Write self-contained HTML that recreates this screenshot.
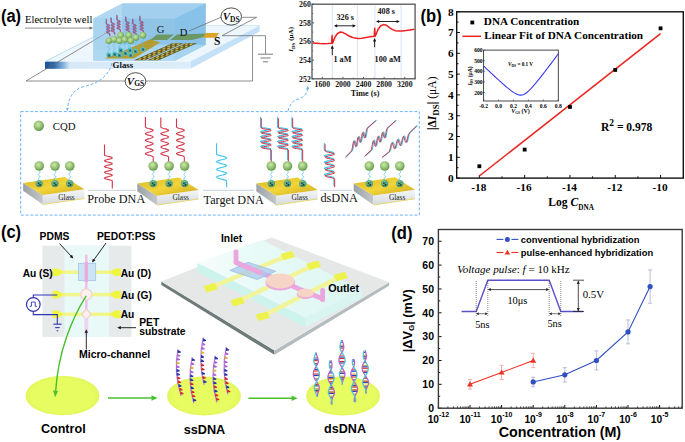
<!DOCTYPE html><html><head><meta charset="utf-8"><style>html,body{margin:0;padding:0;background:#fff;width:685px;height:442px;overflow:hidden}svg{display:block}</style></head><body>
<svg width="685" height="442" viewBox="0 0 685 442">
<rect width="685" height="442" fill="#fff"/>
<text transform="translate(420.6,22) scale(0.94,1)" style='font-family:"Liberation Sans",sans-serif;font-size:17.6px;font-weight:bold'>(b)</text>
<line x1="456.7" y1="178.1" x2="459.9" y2="178.1" stroke="#111" stroke-width="1" />
<text x="453.6" y="182" style='font-family:"Liberation Serif",serif;font-size:11.3px;font-weight:bold;font-style:normal' text-anchor="end" fill="#000" >0</text>
<line x1="456.7" y1="167.7" x2="458.5" y2="167.7" stroke="#111" stroke-width="1" />
<line x1="456.7" y1="157.3" x2="459.9" y2="157.3" stroke="#111" stroke-width="1" />
<text x="453.6" y="161.2" style='font-family:"Liberation Serif",serif;font-size:11.3px;font-weight:bold;font-style:normal' text-anchor="end" fill="#000" >1</text>
<line x1="456.7" y1="146.9" x2="458.5" y2="146.9" stroke="#111" stroke-width="1" />
<line x1="456.7" y1="136.5" x2="459.9" y2="136.5" stroke="#111" stroke-width="1" />
<text x="453.6" y="140.4" style='font-family:"Liberation Serif",serif;font-size:11.3px;font-weight:bold;font-style:normal' text-anchor="end" fill="#000" >2</text>
<line x1="456.7" y1="126.1" x2="458.5" y2="126.1" stroke="#111" stroke-width="1" />
<line x1="456.7" y1="115.7" x2="459.9" y2="115.7" stroke="#111" stroke-width="1" />
<text x="453.6" y="119.6" style='font-family:"Liberation Serif",serif;font-size:11.3px;font-weight:bold;font-style:normal' text-anchor="end" fill="#000" >3</text>
<line x1="456.7" y1="105.3" x2="458.5" y2="105.3" stroke="#111" stroke-width="1" />
<line x1="456.7" y1="94.9" x2="459.9" y2="94.9" stroke="#111" stroke-width="1" />
<text x="453.6" y="98.8" style='font-family:"Liberation Serif",serif;font-size:11.3px;font-weight:bold;font-style:normal' text-anchor="end" fill="#000" >4</text>
<line x1="456.7" y1="84.5" x2="458.5" y2="84.5" stroke="#111" stroke-width="1" />
<line x1="456.7" y1="74.1" x2="459.9" y2="74.1" stroke="#111" stroke-width="1" />
<text x="453.6" y="78" style='font-family:"Liberation Serif",serif;font-size:11.3px;font-weight:bold;font-style:normal' text-anchor="end" fill="#000" >5</text>
<line x1="456.7" y1="63.7" x2="458.5" y2="63.7" stroke="#111" stroke-width="1" />
<line x1="456.7" y1="53.3" x2="459.9" y2="53.3" stroke="#111" stroke-width="1" />
<text x="453.6" y="57.2" style='font-family:"Liberation Serif",serif;font-size:11.3px;font-weight:bold;font-style:normal' text-anchor="end" fill="#000" >6</text>
<line x1="456.7" y1="42.9" x2="458.5" y2="42.9" stroke="#111" stroke-width="1" />
<line x1="456.7" y1="32.5" x2="459.9" y2="32.5" stroke="#111" stroke-width="1" />
<text x="453.6" y="36.4" style='font-family:"Liberation Serif",serif;font-size:11.3px;font-weight:bold;font-style:normal' text-anchor="end" fill="#000" >7</text>
<line x1="456.7" y1="22.1" x2="458.5" y2="22.1" stroke="#111" stroke-width="1" />
<line x1="456.7" y1="11.7" x2="459.9" y2="11.7" stroke="#111" stroke-width="1" />
<text x="453.6" y="15.6" style='font-family:"Liberation Serif",serif;font-size:11.3px;font-weight:bold;font-style:normal' text-anchor="end" fill="#000" >8</text>
<line x1="479.35" y1="178.1" x2="479.35" y2="174.9" stroke="#111" stroke-width="1" />
<text x="478.85" y="191" style='font-family:"Liberation Serif",serif;font-size:11.3px;font-weight:bold;font-style:normal' text-anchor="middle" fill="#000" >-18</text>
<line x1="524.65" y1="178.1" x2="524.65" y2="174.9" stroke="#111" stroke-width="1" />
<text x="524.15" y="191" style='font-family:"Liberation Serif",serif;font-size:11.3px;font-weight:bold;font-style:normal' text-anchor="middle" fill="#000" >-16</text>
<line x1="569.95" y1="178.1" x2="569.95" y2="174.9" stroke="#111" stroke-width="1" />
<text x="569.45" y="191" style='font-family:"Liberation Serif",serif;font-size:11.3px;font-weight:bold;font-style:normal' text-anchor="middle" fill="#000" >-14</text>
<line x1="615.25" y1="178.1" x2="615.25" y2="174.9" stroke="#111" stroke-width="1" />
<text x="614.75" y="191" style='font-family:"Liberation Serif",serif;font-size:11.3px;font-weight:bold;font-style:normal' text-anchor="middle" fill="#000" >-12</text>
<line x1="660.55" y1="178.1" x2="660.55" y2="174.9" stroke="#111" stroke-width="1" />
<text x="660.05" y="191" style='font-family:"Liberation Serif",serif;font-size:11.3px;font-weight:bold;font-style:normal' text-anchor="middle" fill="#000" >-10</text>
<line x1="502" y1="178.1" x2="502" y2="176.3" stroke="#111" stroke-width="1" />
<line x1="547.3" y1="178.1" x2="547.3" y2="176.3" stroke="#111" stroke-width="1" />
<line x1="592.6" y1="178.1" x2="592.6" y2="176.3" stroke="#111" stroke-width="1" />
<line x1="637.9" y1="178.1" x2="637.9" y2="176.3" stroke="#111" stroke-width="1" />
<rect x="456.7" y="11.8" width="226.6" height="166.3" fill="none" stroke="#111" stroke-width="1.4"/>
<line x1="479.35" y1="176.02" x2="660.55" y2="33.54" stroke="#e8241e" stroke-width="1.5" />
<rect x="477.45" y="164.34" width="3.8" height="3.8" fill="#000"/>
<rect x="522.75" y="147.7" width="3.8" height="3.8" fill="#000"/>
<rect x="568.05" y="105.06" width="3.8" height="3.8" fill="#000"/>
<rect x="613.35" y="68.04" width="3.8" height="3.8" fill="#000"/>
<rect x="658.65" y="26.44" width="3.8" height="3.8" fill="#000"/>
<rect x="470.4" y="20.6" width="3.8" height="3.8" fill="#000"/>
<text x="483.8" y="25.2" style='font-family:"Liberation Serif",serif;font-size:11.2px;font-weight:bold;font-style:normal' text-anchor="start" fill="#000" >DNA Concentration</text>
<line x1="462.3" y1="36.3" x2="481" y2="36.3" stroke="#e8241e" stroke-width="1.5" />
<text x="484.2" y="39.3" style='font-family:"Liberation Serif",serif;font-size:11.2px;font-weight:bold;font-style:normal' text-anchor="start" fill="#000" >Linear Fit of DNA Concentration</text>
<text x="601" y="130.5" style='font-family:"Liberation Serif",serif;font-size:11.5px;font-weight:bold;font-style:normal' text-anchor="start" fill="#000" >R<tspan dy="-4.6" style="font-size:9.5px">2</tspan><tspan dy="4.6"> = 0.978</tspan></text>
<text x="548.3" y="205.8" style='font-family:"Liberation Serif",serif;font-size:11.6px;font-weight:bold;font-style:normal' text-anchor="start" fill="#000" >Log <tspan font-style="italic">C</tspan><tspan dy="3.9" style="font-size:7.2px">DNA</tspan></text>
<text transform="translate(436.2,103.3) rotate(-90)" text-anchor="middle" style='font-family:"Liberation Serif",serif;font-size:11.6px;font-weight:bold'>|Δ<tspan font-style="italic">I</tspan><tspan dy="3" style="font-size:9px">DS</tspan><tspan dy="-3">| </tspan><tspan font-weight="normal">(μA)</tspan></text>
<rect x="483.6" y="50.1" width="74.7" height="50.9" fill="#fff" stroke="#333" stroke-width="0.9"/>
<line x1="483.6" y1="92.52" x2="485.1" y2="92.52" stroke="#333" stroke-width="0.6" />
<text x="482.6" y="94.52" style='font-family:"Liberation Serif",serif;font-size:5.6px;font-weight:bold;font-style:normal' text-anchor="end" fill="#000" >200</text>
<line x1="483.6" y1="81.91" x2="485.1" y2="81.91" stroke="#333" stroke-width="0.6" />
<text x="482.6" y="83.91" style='font-family:"Liberation Serif",serif;font-size:5.6px;font-weight:bold;font-style:normal' text-anchor="end" fill="#000" >300</text>
<line x1="483.6" y1="71.31" x2="485.1" y2="71.31" stroke="#333" stroke-width="0.6" />
<text x="482.6" y="73.31" style='font-family:"Liberation Serif",serif;font-size:5.6px;font-weight:bold;font-style:normal' text-anchor="end" fill="#000" >400</text>
<line x1="483.6" y1="60.7" x2="485.1" y2="60.7" stroke="#333" stroke-width="0.6" />
<text x="482.6" y="62.7" style='font-family:"Liberation Serif",serif;font-size:5.6px;font-weight:bold;font-style:normal' text-anchor="end" fill="#000" >500</text>
<line x1="483.6" y1="50.1" x2="485.1" y2="50.1" stroke="#333" stroke-width="0.6" />
<text x="482.6" y="52.1" style='font-family:"Liberation Serif",serif;font-size:5.6px;font-weight:bold;font-style:normal' text-anchor="end" fill="#000" >600</text>
<line x1="483.6" y1="101" x2="483.6" y2="99.5" stroke="#333" stroke-width="0.6" />
<text x="483.6" y="107.8" style='font-family:"Liberation Serif",serif;font-size:5.6px;font-weight:bold;font-style:normal' text-anchor="middle" fill="#000" >-0.2</text>
<line x1="498.54" y1="101" x2="498.54" y2="99.5" stroke="#333" stroke-width="0.6" />
<text x="498.54" y="107.8" style='font-family:"Liberation Serif",serif;font-size:5.6px;font-weight:bold;font-style:normal' text-anchor="middle" fill="#000" >0.0</text>
<line x1="513.48" y1="101" x2="513.48" y2="99.5" stroke="#333" stroke-width="0.6" />
<text x="513.48" y="107.8" style='font-family:"Liberation Serif",serif;font-size:5.6px;font-weight:bold;font-style:normal' text-anchor="middle" fill="#000" >0.2</text>
<line x1="528.42" y1="101" x2="528.42" y2="99.5" stroke="#333" stroke-width="0.6" />
<text x="528.42" y="107.8" style='font-family:"Liberation Serif",serif;font-size:5.6px;font-weight:bold;font-style:normal' text-anchor="middle" fill="#000" >0.4</text>
<line x1="543.36" y1="101" x2="543.36" y2="99.5" stroke="#333" stroke-width="0.6" />
<text x="543.36" y="107.8" style='font-family:"Liberation Serif",serif;font-size:5.6px;font-weight:bold;font-style:normal' text-anchor="middle" fill="#000" >0.6</text>
<line x1="558.3" y1="101" x2="558.3" y2="99.5" stroke="#333" stroke-width="0.6" />
<text x="558.3" y="107.8" style='font-family:"Liberation Serif",serif;font-size:5.6px;font-weight:bold;font-style:normal' text-anchor="middle" fill="#000" >0.8</text>
<path d="M483.6,66.01 L484.85,67.19 L486.09,68.36 L487.34,69.54 L488.58,70.71 L489.83,71.88 L491.07,73.05 L492.31,74.21 L493.56,75.37 L494.81,76.52 L496.05,77.68 L497.3,78.82 L498.54,79.96 L499.79,81.09 L501.03,82.21 L502.27,83.32 L503.52,84.42 L504.76,85.51 L506.01,86.58 L507.25,87.63 L508.5,88.65 L509.75,89.64 L510.99,90.6 L512.24,91.51 L513.48,92.36 L514.73,93.13 L515.97,93.81 L517.22,94.38 L518.46,94.81 L519.71,95.08 L520.95,95.17 L522.19,95.04 L523.44,94.66 L524.68,94.05 L525.93,93.25 L527.17,92.28 L528.42,91.18 L529.66,89.98 L530.91,88.69 L532.15,87.33 L533.4,85.93 L534.64,84.47 L535.89,82.99 L537.13,81.47 L538.38,79.93 L539.62,78.37 L540.87,76.79 L542.12,75.2 L543.36,73.6 L544.61,71.98 L545.85,70.36 L547.09,68.73 L548.34,67.09 L549.58,65.45 L550.83,63.8 L552.07,62.14 L553.32,60.48 L554.56,58.82 L555.81,57.15 L557.05,55.48 L558.3,53.81" stroke="#3838f0" fill="none" stroke-width="1.1" />
<text x="508" y="66" style='font-family:"Liberation Serif",serif;font-size:5.2px;font-weight:bold;font-style:normal' text-anchor="start" fill="#000" ><tspan font-style="italic">V</tspan><tspan dy="1" style="font-size:3.6px">DS</tspan><tspan dy="-1"> = 0.1 V</tspan></text>
<text x="520.5" y="112.5" style='font-family:"Liberation Serif",serif;font-size:6px;font-weight:bold;font-style:normal' text-anchor="middle" fill="#000" ><tspan font-style="italic">V</tspan><tspan dy="1" style="font-size:3.6px">GS</tspan><tspan dy="-1"> (V)</tspan></text>
<text transform="translate(471.8,76) rotate(-90)" text-anchor="middle" style='font-family:"Liberation Serif",serif;font-size:5.6px;font-weight:bold'><tspan font-style="italic">I</tspan><tspan dy="1" style="font-size:3.6px">DS</tspan><tspan dy="-1"> (μA)</tspan></text>
<text transform="translate(391.3,239) scale(0.94,1)" style='font-family:"Liberation Sans",sans-serif;font-size:17.6px;font-weight:bold'>(d)</text>
<line x1="438.4" y1="408.2" x2="441.6" y2="408.2" stroke="#111" stroke-width="1" />
<text x="434" y="412" style='font-family:"Liberation Sans",sans-serif;font-size:10.5px;font-weight:bold;font-style:normal' text-anchor="end" fill="#000" >0</text>
<line x1="438.4" y1="396.27" x2="440.2" y2="396.27" stroke="#111" stroke-width="1" />
<line x1="438.4" y1="384.35" x2="441.6" y2="384.35" stroke="#111" stroke-width="1" />
<text x="434" y="388.15" style='font-family:"Liberation Sans",sans-serif;font-size:10.5px;font-weight:bold;font-style:normal' text-anchor="end" fill="#000" >10</text>
<line x1="438.4" y1="372.43" x2="440.2" y2="372.43" stroke="#111" stroke-width="1" />
<line x1="438.4" y1="360.5" x2="441.6" y2="360.5" stroke="#111" stroke-width="1" />
<text x="434" y="364.3" style='font-family:"Liberation Sans",sans-serif;font-size:10.5px;font-weight:bold;font-style:normal' text-anchor="end" fill="#000" >20</text>
<line x1="438.4" y1="348.57" x2="440.2" y2="348.57" stroke="#111" stroke-width="1" />
<line x1="438.4" y1="336.65" x2="441.6" y2="336.65" stroke="#111" stroke-width="1" />
<text x="434" y="340.45" style='font-family:"Liberation Sans",sans-serif;font-size:10.5px;font-weight:bold;font-style:normal' text-anchor="end" fill="#000" >30</text>
<line x1="438.4" y1="324.73" x2="440.2" y2="324.73" stroke="#111" stroke-width="1" />
<line x1="438.4" y1="312.8" x2="441.6" y2="312.8" stroke="#111" stroke-width="1" />
<text x="434" y="316.6" style='font-family:"Liberation Sans",sans-serif;font-size:10.5px;font-weight:bold;font-style:normal' text-anchor="end" fill="#000" >40</text>
<line x1="438.4" y1="300.88" x2="440.2" y2="300.88" stroke="#111" stroke-width="1" />
<line x1="438.4" y1="288.95" x2="441.6" y2="288.95" stroke="#111" stroke-width="1" />
<text x="434" y="292.75" style='font-family:"Liberation Sans",sans-serif;font-size:10.5px;font-weight:bold;font-style:normal' text-anchor="end" fill="#000" >50</text>
<line x1="438.4" y1="277.02" x2="440.2" y2="277.02" stroke="#111" stroke-width="1" />
<line x1="438.4" y1="265.1" x2="441.6" y2="265.1" stroke="#111" stroke-width="1" />
<text x="434" y="268.9" style='font-family:"Liberation Sans",sans-serif;font-size:10.5px;font-weight:bold;font-style:normal' text-anchor="end" fill="#000" >60</text>
<line x1="438.4" y1="253.18" x2="440.2" y2="253.18" stroke="#111" stroke-width="1" />
<line x1="438.4" y1="241.25" x2="441.6" y2="241.25" stroke="#111" stroke-width="1" />
<text x="434" y="245.05" style='font-family:"Liberation Sans",sans-serif;font-size:10.5px;font-weight:bold;font-style:normal' text-anchor="end" fill="#000" >70</text>
<line x1="438.4" y1="408.2" x2="438.4" y2="405" stroke="#111" stroke-width="1" />
<text x="438.4" y="423" text-anchor="middle" style='font-family:"Liberation Sans",sans-serif;font-size:10.2px;font-weight:bold'>10<tspan dy="-6.5" style="font-size:7px">-12</tspan></text>
<line x1="447.91" y1="408.2" x2="447.91" y2="406.4" stroke="#111" stroke-width="0.8" />
<line x1="453.48" y1="408.2" x2="453.48" y2="406.4" stroke="#111" stroke-width="0.8" />
<line x1="457.43" y1="408.2" x2="457.43" y2="406.4" stroke="#111" stroke-width="0.8" />
<line x1="460.49" y1="408.2" x2="460.49" y2="406.4" stroke="#111" stroke-width="0.8" />
<line x1="462.99" y1="408.2" x2="462.99" y2="406.4" stroke="#111" stroke-width="0.8" />
<line x1="465.11" y1="408.2" x2="465.11" y2="406.4" stroke="#111" stroke-width="0.8" />
<line x1="466.94" y1="408.2" x2="466.94" y2="406.4" stroke="#111" stroke-width="0.8" />
<line x1="468.55" y1="408.2" x2="468.55" y2="406.4" stroke="#111" stroke-width="0.8" />
<line x1="470" y1="408.2" x2="470" y2="405" stroke="#111" stroke-width="1" />
<text x="470" y="423" text-anchor="middle" style='font-family:"Liberation Sans",sans-serif;font-size:10.2px;font-weight:bold'>10<tspan dy="-6.5" style="font-size:7px">-11</tspan></text>
<line x1="479.51" y1="408.2" x2="479.51" y2="406.4" stroke="#111" stroke-width="0.8" />
<line x1="485.08" y1="408.2" x2="485.08" y2="406.4" stroke="#111" stroke-width="0.8" />
<line x1="489.03" y1="408.2" x2="489.03" y2="406.4" stroke="#111" stroke-width="0.8" />
<line x1="492.09" y1="408.2" x2="492.09" y2="406.4" stroke="#111" stroke-width="0.8" />
<line x1="494.59" y1="408.2" x2="494.59" y2="406.4" stroke="#111" stroke-width="0.8" />
<line x1="496.71" y1="408.2" x2="496.71" y2="406.4" stroke="#111" stroke-width="0.8" />
<line x1="498.54" y1="408.2" x2="498.54" y2="406.4" stroke="#111" stroke-width="0.8" />
<line x1="500.15" y1="408.2" x2="500.15" y2="406.4" stroke="#111" stroke-width="0.8" />
<line x1="501.6" y1="408.2" x2="501.6" y2="405" stroke="#111" stroke-width="1" />
<text x="501.6" y="423" text-anchor="middle" style='font-family:"Liberation Sans",sans-serif;font-size:10.2px;font-weight:bold'>10<tspan dy="-6.5" style="font-size:7px">-10</tspan></text>
<line x1="511.11" y1="408.2" x2="511.11" y2="406.4" stroke="#111" stroke-width="0.8" />
<line x1="516.68" y1="408.2" x2="516.68" y2="406.4" stroke="#111" stroke-width="0.8" />
<line x1="520.63" y1="408.2" x2="520.63" y2="406.4" stroke="#111" stroke-width="0.8" />
<line x1="523.69" y1="408.2" x2="523.69" y2="406.4" stroke="#111" stroke-width="0.8" />
<line x1="526.19" y1="408.2" x2="526.19" y2="406.4" stroke="#111" stroke-width="0.8" />
<line x1="528.31" y1="408.2" x2="528.31" y2="406.4" stroke="#111" stroke-width="0.8" />
<line x1="530.14" y1="408.2" x2="530.14" y2="406.4" stroke="#111" stroke-width="0.8" />
<line x1="531.75" y1="408.2" x2="531.75" y2="406.4" stroke="#111" stroke-width="0.8" />
<line x1="533.2" y1="408.2" x2="533.2" y2="405" stroke="#111" stroke-width="1" />
<text x="533.2" y="423" text-anchor="middle" style='font-family:"Liberation Sans",sans-serif;font-size:10.2px;font-weight:bold'>10<tspan dy="-6.5" style="font-size:7px">-9</tspan></text>
<line x1="542.71" y1="408.2" x2="542.71" y2="406.4" stroke="#111" stroke-width="0.8" />
<line x1="548.28" y1="408.2" x2="548.28" y2="406.4" stroke="#111" stroke-width="0.8" />
<line x1="552.23" y1="408.2" x2="552.23" y2="406.4" stroke="#111" stroke-width="0.8" />
<line x1="555.29" y1="408.2" x2="555.29" y2="406.4" stroke="#111" stroke-width="0.8" />
<line x1="557.79" y1="408.2" x2="557.79" y2="406.4" stroke="#111" stroke-width="0.8" />
<line x1="559.91" y1="408.2" x2="559.91" y2="406.4" stroke="#111" stroke-width="0.8" />
<line x1="561.74" y1="408.2" x2="561.74" y2="406.4" stroke="#111" stroke-width="0.8" />
<line x1="563.35" y1="408.2" x2="563.35" y2="406.4" stroke="#111" stroke-width="0.8" />
<line x1="564.8" y1="408.2" x2="564.8" y2="405" stroke="#111" stroke-width="1" />
<text x="564.8" y="423" text-anchor="middle" style='font-family:"Liberation Sans",sans-serif;font-size:10.2px;font-weight:bold'>10<tspan dy="-6.5" style="font-size:7px">-8</tspan></text>
<line x1="574.31" y1="408.2" x2="574.31" y2="406.4" stroke="#111" stroke-width="0.8" />
<line x1="579.88" y1="408.2" x2="579.88" y2="406.4" stroke="#111" stroke-width="0.8" />
<line x1="583.83" y1="408.2" x2="583.83" y2="406.4" stroke="#111" stroke-width="0.8" />
<line x1="586.89" y1="408.2" x2="586.89" y2="406.4" stroke="#111" stroke-width="0.8" />
<line x1="589.39" y1="408.2" x2="589.39" y2="406.4" stroke="#111" stroke-width="0.8" />
<line x1="591.51" y1="408.2" x2="591.51" y2="406.4" stroke="#111" stroke-width="0.8" />
<line x1="593.34" y1="408.2" x2="593.34" y2="406.4" stroke="#111" stroke-width="0.8" />
<line x1="594.95" y1="408.2" x2="594.95" y2="406.4" stroke="#111" stroke-width="0.8" />
<line x1="596.4" y1="408.2" x2="596.4" y2="405" stroke="#111" stroke-width="1" />
<text x="596.4" y="423" text-anchor="middle" style='font-family:"Liberation Sans",sans-serif;font-size:10.2px;font-weight:bold'>10<tspan dy="-6.5" style="font-size:7px">-7</tspan></text>
<line x1="605.91" y1="408.2" x2="605.91" y2="406.4" stroke="#111" stroke-width="0.8" />
<line x1="611.48" y1="408.2" x2="611.48" y2="406.4" stroke="#111" stroke-width="0.8" />
<line x1="615.43" y1="408.2" x2="615.43" y2="406.4" stroke="#111" stroke-width="0.8" />
<line x1="618.49" y1="408.2" x2="618.49" y2="406.4" stroke="#111" stroke-width="0.8" />
<line x1="620.99" y1="408.2" x2="620.99" y2="406.4" stroke="#111" stroke-width="0.8" />
<line x1="623.11" y1="408.2" x2="623.11" y2="406.4" stroke="#111" stroke-width="0.8" />
<line x1="624.94" y1="408.2" x2="624.94" y2="406.4" stroke="#111" stroke-width="0.8" />
<line x1="626.55" y1="408.2" x2="626.55" y2="406.4" stroke="#111" stroke-width="0.8" />
<line x1="628" y1="408.2" x2="628" y2="405" stroke="#111" stroke-width="1" />
<text x="628" y="423" text-anchor="middle" style='font-family:"Liberation Sans",sans-serif;font-size:10.2px;font-weight:bold'>10<tspan dy="-6.5" style="font-size:7px">-6</tspan></text>
<line x1="637.51" y1="408.2" x2="637.51" y2="406.4" stroke="#111" stroke-width="0.8" />
<line x1="643.08" y1="408.2" x2="643.08" y2="406.4" stroke="#111" stroke-width="0.8" />
<line x1="647.03" y1="408.2" x2="647.03" y2="406.4" stroke="#111" stroke-width="0.8" />
<line x1="650.09" y1="408.2" x2="650.09" y2="406.4" stroke="#111" stroke-width="0.8" />
<line x1="652.59" y1="408.2" x2="652.59" y2="406.4" stroke="#111" stroke-width="0.8" />
<line x1="654.71" y1="408.2" x2="654.71" y2="406.4" stroke="#111" stroke-width="0.8" />
<line x1="656.54" y1="408.2" x2="656.54" y2="406.4" stroke="#111" stroke-width="0.8" />
<line x1="658.15" y1="408.2" x2="658.15" y2="406.4" stroke="#111" stroke-width="0.8" />
<line x1="659.6" y1="408.2" x2="659.6" y2="405" stroke="#111" stroke-width="1" />
<text x="659.6" y="423" text-anchor="middle" style='font-family:"Liberation Sans",sans-serif;font-size:10.2px;font-weight:bold'>10<tspan dy="-6.5" style="font-size:7px">-5</tspan></text>
<line x1="669.11" y1="408.2" x2="669.11" y2="406.4" stroke="#111" stroke-width="0.8" />
<line x1="674.68" y1="408.2" x2="674.68" y2="406.4" stroke="#111" stroke-width="0.8" />
<line x1="678.63" y1="408.2" x2="678.63" y2="406.4" stroke="#111" stroke-width="0.8" />
<line x1="681.69" y1="408.2" x2="681.69" y2="406.4" stroke="#111" stroke-width="0.8" />
<rect x="438.4" y="229.5" width="243.8" height="178.7" fill="none" stroke="#3a3a3a" stroke-width="1.4"/>
<text x="498.8" y="437" style='font-family:"Liberation Sans",sans-serif;font-size:14.3px;font-weight:bold;font-style:normal' text-anchor="start" fill="#000" >Concentration (M)</text>
<text transform="translate(411.8,320.8) rotate(-90)" text-anchor="middle" style='font-family:"Liberation Sans",sans-serif;font-size:12.8px;font-weight:bold'>|ΔV<tspan dy="2.6" style="font-size:8px">G</tspan><tspan dy="-2.6">| (mV)</tspan></text>
<line x1="533.2" y1="386.74" x2="533.2" y2="377.19" stroke="#b8bcd8" stroke-width="1" />
<line x1="531.2" y1="386.74" x2="535.2" y2="386.74" stroke="#b8bcd8" stroke-width="1" />
<line x1="531.2" y1="377.19" x2="535.2" y2="377.19" stroke="#b8bcd8" stroke-width="1" />
<line x1="564.8" y1="381.96" x2="564.8" y2="367.65" stroke="#b8bcd8" stroke-width="1" />
<line x1="562.8" y1="381.96" x2="566.8" y2="381.96" stroke="#b8bcd8" stroke-width="1" />
<line x1="562.8" y1="367.65" x2="566.8" y2="367.65" stroke="#b8bcd8" stroke-width="1" />
<line x1="596.4" y1="370.04" x2="596.4" y2="350.96" stroke="#b8bcd8" stroke-width="1" />
<line x1="594.4" y1="370.04" x2="598.4" y2="370.04" stroke="#b8bcd8" stroke-width="1" />
<line x1="594.4" y1="350.96" x2="598.4" y2="350.96" stroke="#b8bcd8" stroke-width="1" />
<line x1="628" y1="343.81" x2="628" y2="319.95" stroke="#b8bcd8" stroke-width="1" />
<line x1="626" y1="343.81" x2="630" y2="343.81" stroke="#b8bcd8" stroke-width="1" />
<line x1="626" y1="319.95" x2="630" y2="319.95" stroke="#b8bcd8" stroke-width="1" />
<line x1="650.09" y1="303.26" x2="650.09" y2="269.87" stroke="#b8bcd8" stroke-width="1" />
<line x1="648.09" y1="303.26" x2="652.09" y2="303.26" stroke="#b8bcd8" stroke-width="1" />
<line x1="648.09" y1="269.87" x2="652.09" y2="269.87" stroke="#b8bcd8" stroke-width="1" />
<path d="M533.2,381.96 L564.8,374.81 L596.4,360.5 L628,331.88 L650.09,286.56" stroke="#3050c0" fill="none" stroke-width="1.1" />
<line x1="470" y1="389.12" x2="470" y2="379.58" stroke="#f0b0a8" stroke-width="1" />
<line x1="468" y1="389.12" x2="472" y2="389.12" stroke="#f0b0a8" stroke-width="1" />
<line x1="468" y1="379.58" x2="472" y2="379.58" stroke="#f0b0a8" stroke-width="1" />
<line x1="501.6" y1="379.58" x2="501.6" y2="365.27" stroke="#f0b0a8" stroke-width="1" />
<line x1="499.6" y1="379.58" x2="503.6" y2="379.58" stroke="#f0b0a8" stroke-width="1" />
<line x1="499.6" y1="365.27" x2="503.6" y2="365.27" stroke="#f0b0a8" stroke-width="1" />
<line x1="533.2" y1="367.65" x2="533.2" y2="353.34" stroke="#f0b0a8" stroke-width="1" />
<line x1="531.2" y1="367.65" x2="535.2" y2="367.65" stroke="#f0b0a8" stroke-width="1" />
<line x1="531.2" y1="353.34" x2="535.2" y2="353.34" stroke="#f0b0a8" stroke-width="1" />
<path d="M470,384.35 L501.6,372.43 L533.2,360.5" stroke="#f03020" fill="none" stroke-width="1.1" />
<circle cx="533.2" cy="381.96" r="2.6" fill="#3050c0"/>
<circle cx="564.8" cy="374.81" r="2.6" fill="#3050c0"/>
<circle cx="596.4" cy="360.5" r="2.6" fill="#3050c0"/>
<circle cx="628" cy="331.88" r="2.6" fill="#3050c0"/>
<circle cx="650.09" cy="286.56" r="2.6" fill="#3050c0"/>
<polygon points="470,381.35 473,386.55 467,386.55" fill="#f03020" />
<polygon points="501.6,369.43 504.6,374.62 498.6,374.62" fill="#f03020" />
<polygon points="533.2,357.5 536.2,362.7 530.2,362.7" fill="#f03020" />
<line x1="496.5" y1="239.4" x2="503.4" y2="239.4" stroke="#3050c0" stroke-width="1.1" />
<line x1="511.4" y1="239.4" x2="518.3" y2="239.4" stroke="#3050c0" stroke-width="1.1" />
<circle cx="507.4" cy="239.4" r="2.5" fill="#3050c0"/>
<text x="520.8" y="242.9" style='font-family:"Liberation Sans",sans-serif;font-size:9.4px;font-weight:bold;font-style:normal' text-anchor="start" fill="#000" >conventional hybridization</text>
<line x1="496.5" y1="252.5" x2="503.4" y2="252.5" stroke="#f03020" stroke-width="1.1" />
<line x1="511.4" y1="252.5" x2="518.3" y2="252.5" stroke="#f03020" stroke-width="1.1" />
<polygon points="507.4,249.7 510.2,254.5 504.6,254.5" fill="#f03020" />
<text x="520.8" y="256" style='font-family:"Liberation Sans",sans-serif;font-size:9.4px;font-weight:bold;font-style:normal' text-anchor="start" fill="#000" >pulse-enhanced hybridization</text>
<text x="457.2" y="272.6" style='font-family:"Liberation Serif",serif;font-size:11.1px;font-weight:normal;font-style:normal' text-anchor="start" fill="#000" ><tspan font-style="italic">Voltage pulse</tspan>: <tspan font-style="italic">f</tspan> = 10 kHz</text>
<path d="M461.6,311.5 L476.2,311.5 L487.8,280.2 L549.2,280.2 L560.8,311.5 L583.1,311.5" stroke="#5a50c8" fill="none" stroke-width="1.4" />
<line x1="476.2" y1="281" x2="476.2" y2="316" stroke="#333" stroke-width="0.6" stroke-dasharray="1,1"/>
<line x1="487.8" y1="281" x2="487.8" y2="316" stroke="#333" stroke-width="0.6" stroke-dasharray="1,1"/>
<line x1="549.2" y1="281" x2="549.2" y2="316" stroke="#333" stroke-width="0.6" stroke-dasharray="1,1"/>
<line x1="560.8" y1="281" x2="560.8" y2="316" stroke="#333" stroke-width="0.6" stroke-dasharray="1,1"/>
<line x1="488.8" y1="289.6" x2="548.2" y2="289.6" stroke="#222" stroke-width="0.8" />
<polygon points="487.8,289.6 490.8,288.1 490.8,291.1" fill="#222" />
<polygon points="549.2,289.6 546.2,288.1 546.2,291.1" fill="#222" />
<line x1="477.2" y1="313.7" x2="486.8" y2="313.7" stroke="#222" stroke-width="0.6" />
<polygon points="476.2,313.7 478.7,312.2 478.7,315.2" fill="#222" />
<polygon points="487.8,313.7 485.3,312.2 485.3,315.2" fill="#222" />
<line x1="550.2" y1="313.7" x2="559.8" y2="313.7" stroke="#222" stroke-width="0.6" />
<polygon points="549.2,313.7 551.7,312.2 551.7,315.2" fill="#222" />
<polygon points="560.8,313.7 558.3,312.2 558.3,315.2" fill="#222" />
<line x1="578.3" y1="281" x2="578.3" y2="311" stroke="#222" stroke-width="0.8" />
<polygon points="578.3,280.5 576.8,284 579.8,284" fill="#222" />
<polygon points="578.3,311.5 576.8,308 579.8,308" fill="#222" />
<line x1="573" y1="280.2" x2="584" y2="280.2" stroke="#222" stroke-width="0.8" />
<line x1="573" y1="311.5" x2="584" y2="311.5" stroke="#222" stroke-width="0.8" />
<text x="517.4" y="303.6" style='font-family:"Liberation Serif",serif;font-size:10.4px;font-weight:normal;font-style:normal' text-anchor="middle" fill="#000" >10μs</text>
<text x="482.4" y="328.4" style='font-family:"Liberation Serif",serif;font-size:10.4px;font-weight:normal;font-style:normal' text-anchor="middle" fill="#000" >5ns</text>
<text x="554.6" y="327.2" style='font-family:"Liberation Serif",serif;font-size:10.4px;font-weight:normal;font-style:normal' text-anchor="middle" fill="#000" >5ns</text>
<text x="582.7" y="298.3" style='font-family:"Liberation Serif",serif;font-size:10.8px;font-weight:normal;font-style:normal' text-anchor="start" fill="#000" >0.5V</text>
<defs>
<radialGradient id="gsph" cx="0.42" cy="0.38" r="0.65"><stop offset="0" stop-color="#cfe8b0"/><stop offset="0.55" stop-color="#94c272"/><stop offset="1" stop-color="#5e9446"/></radialGradient>
<radialGradient id="ssph" cx="0.45" cy="0.4" r="0.6"><stop offset="0" stop-color="#8ad4b0"/><stop offset="1" stop-color="#44966e"/></radialGradient>
<linearGradient id="glassL" x1="0" x2="1" y1="0" y2="0"><stop offset="0" stop-color="#1c5294"/><stop offset="0.06" stop-color="#2f68aa"/><stop offset="0.12" stop-color="#7aaad8"/><stop offset="0.17" stop-color="#d6e9f8"/><stop offset="1" stop-color="#dcedf9"/></linearGradient>
<linearGradient id="chipTop" x1="0" x2="1" y1="0" y2="1"><stop offset="0" stop-color="#d8b820"/><stop offset="0.5" stop-color="#f2d53a"/><stop offset="1" stop-color="#caa81e"/></linearGradient>
<linearGradient id="chipFront" x1="0" x2="0" y1="0" y2="1"><stop offset="0" stop-color="#f4f6f8"/><stop offset="1" stop-color="#d6dadd"/></linearGradient>
<linearGradient id="chipLeft" x1="0" x2="1" y1="0" y2="0"><stop offset="0" stop-color="#9aa0a4"/><stop offset="1" stop-color="#c4c8cb"/></linearGradient>
</defs>
<text transform="translate(0.9,21.6) scale(0.94,1)" style='font-family:"Liberation Sans",sans-serif;font-size:17.6px;font-weight:bold'>(a)</text>
<text x="25" y="23.2" style='font-family:"Liberation Serif",serif;font-size:10.6px;font-weight:normal;font-style:normal' text-anchor="start" fill="#000" >Electrolyte well</text>
<line x1="25" y1="28.1" x2="91" y2="28.1" stroke="#707070" stroke-width="0.8" />
<polygon points="93.5,28.1 89.5,26.6 89.5,29.6" fill="#707070" />
<path d="M146,81 L252.5,81 L252.5,35.7 L265.5,35.7 L265.5,54" stroke="#6a6a6a" fill="none" stroke-width="0.75" />
<line x1="258" y1="54.2" x2="273" y2="54.2" stroke="#6a6a6a" stroke-width="0.9" />
<line x1="260.5" y1="58" x2="270.5" y2="58" stroke="#6a6a6a" stroke-width="0.9" />
<line x1="263" y1="61.8" x2="268" y2="61.8" stroke="#6a6a6a" stroke-width="0.9" />
<polygon points="45,61.6 115.8,25.5 259.6,25.5 190.4,61.6" fill="#edf6fd" />
<polygon points="190.4,61.6 259.6,25.5 259.6,31.5 190.4,68.8" fill="#c4e1f7" />
<rect x="45" y="61.6" width="145.4" height="7.2" fill="url(#glassL)"/>
<line x1="45" y1="61.6" x2="115.8" y2="25.5" stroke="#a8d6f4" stroke-width="0.8" />
<line x1="115.8" y1="25.5" x2="259.6" y2="25.5" stroke="#c8e6f8" stroke-width="0.8" />
<path d="M125,81 L26,81 L93.5,40.6" stroke="#6a6a6a" fill="none" stroke-width="0.75" />
<polygon points="93.5,18.4 122.4,3.5 205.6,3.5 205.6,44.7 175,60.4 93.5,60.4" fill="#98cbeb" />
<polygon points="93.5,18.4 175,18.4 175,60.4 93.5,60.4" fill="#a8d4f0" />
<polygon points="122.4,18.4 175,18.4 175,44.7 122.4,44.7" fill="#90c4e6" />
<polygon points="93.5,18.4 122.4,3.5 122.4,18.4" fill="#b3d9f2" />
<polygon points="122.4,3.5 205.6,3.5 175,18.4 122.4,18.4" fill="#a2cfed" />
<polygon points="175,18.4 205.6,3.5 205.6,44.7 175,60.4" fill="#88c2e8" />
<polygon points="175,44.7 205.6,44.7 175,60.4" fill="#a6d3f0" />
<polygon points="93.5,50 175,50 175,60.4 93.5,60.4" fill="#b2daf3" fill-opacity="0.6"/>
<path d="M93.5,40.6 L112,29.5" stroke="#6a6a6a" fill="none" stroke-width="0.6" stroke-opacity="0.7"/>
<polygon points="104.5,58.6 134,58.6 160,42.5 150,39.5 141,43.5" fill="#b39c32" />
<polygon points="141,43.5 150,39.5 160,42.5" fill="#b39c32" />
<polygon points="134,60.2 145.5,60.2 184,43.2 172.5,43.2" fill="#5e5c2c" />
<ellipse cx="139.86" cy="59.14" rx="1.7" ry="0.75" fill="#cbb646" transform="rotate(-22 139.86 59.14)"/>
<ellipse cx="144.46" cy="59.14" rx="1.7" ry="0.75" fill="#cbb646" transform="rotate(-22 144.46 59.14)"/>
<ellipse cx="144.67" cy="57.01" rx="1.7" ry="0.75" fill="#cbb646" transform="rotate(-22 144.67 57.01)"/>
<ellipse cx="149.27" cy="57.01" rx="1.7" ry="0.75" fill="#cbb646" transform="rotate(-22 149.27 57.01)"/>
<ellipse cx="149.48" cy="54.89" rx="1.7" ry="0.75" fill="#cbb646" transform="rotate(-22 149.48 54.89)"/>
<ellipse cx="154.08" cy="54.89" rx="1.7" ry="0.75" fill="#cbb646" transform="rotate(-22 154.08 54.89)"/>
<ellipse cx="154.29" cy="52.76" rx="1.7" ry="0.75" fill="#cbb646" transform="rotate(-22 154.29 52.76)"/>
<ellipse cx="158.89" cy="52.76" rx="1.7" ry="0.75" fill="#cbb646" transform="rotate(-22 158.89 52.76)"/>
<ellipse cx="159.11" cy="50.64" rx="1.7" ry="0.75" fill="#cbb646" transform="rotate(-22 159.11 50.64)"/>
<ellipse cx="163.71" cy="50.64" rx="1.7" ry="0.75" fill="#cbb646" transform="rotate(-22 163.71 50.64)"/>
<ellipse cx="163.92" cy="48.51" rx="1.7" ry="0.75" fill="#cbb646" transform="rotate(-22 163.92 48.51)"/>
<ellipse cx="168.52" cy="48.51" rx="1.7" ry="0.75" fill="#cbb646" transform="rotate(-22 168.52 48.51)"/>
<ellipse cx="168.73" cy="46.39" rx="1.7" ry="0.75" fill="#cbb646" transform="rotate(-22 168.73 46.39)"/>
<ellipse cx="173.33" cy="46.39" rx="1.7" ry="0.75" fill="#cbb646" transform="rotate(-22 173.33 46.39)"/>
<ellipse cx="173.54" cy="44.26" rx="1.7" ry="0.75" fill="#cbb646" transform="rotate(-22 173.54 44.26)"/>
<ellipse cx="178.14" cy="44.26" rx="1.7" ry="0.75" fill="#cbb646" transform="rotate(-22 178.14 44.26)"/>
<polygon points="147,60.2 158.5,60.2 197,43.2 185.5,43.2" fill="#5e5c2c" />
<ellipse cx="152.86" cy="59.14" rx="1.7" ry="0.75" fill="#cbb646" transform="rotate(-22 152.86 59.14)"/>
<ellipse cx="157.46" cy="59.14" rx="1.7" ry="0.75" fill="#cbb646" transform="rotate(-22 157.46 59.14)"/>
<ellipse cx="157.67" cy="57.01" rx="1.7" ry="0.75" fill="#cbb646" transform="rotate(-22 157.67 57.01)"/>
<ellipse cx="162.27" cy="57.01" rx="1.7" ry="0.75" fill="#cbb646" transform="rotate(-22 162.27 57.01)"/>
<ellipse cx="162.48" cy="54.89" rx="1.7" ry="0.75" fill="#cbb646" transform="rotate(-22 162.48 54.89)"/>
<ellipse cx="167.08" cy="54.89" rx="1.7" ry="0.75" fill="#cbb646" transform="rotate(-22 167.08 54.89)"/>
<ellipse cx="167.29" cy="52.76" rx="1.7" ry="0.75" fill="#cbb646" transform="rotate(-22 167.29 52.76)"/>
<ellipse cx="171.89" cy="52.76" rx="1.7" ry="0.75" fill="#cbb646" transform="rotate(-22 171.89 52.76)"/>
<ellipse cx="172.11" cy="50.64" rx="1.7" ry="0.75" fill="#cbb646" transform="rotate(-22 172.11 50.64)"/>
<ellipse cx="176.71" cy="50.64" rx="1.7" ry="0.75" fill="#cbb646" transform="rotate(-22 176.71 50.64)"/>
<ellipse cx="176.92" cy="48.51" rx="1.7" ry="0.75" fill="#cbb646" transform="rotate(-22 176.92 48.51)"/>
<ellipse cx="181.52" cy="48.51" rx="1.7" ry="0.75" fill="#cbb646" transform="rotate(-22 181.52 48.51)"/>
<ellipse cx="181.73" cy="46.39" rx="1.7" ry="0.75" fill="#cbb646" transform="rotate(-22 181.73 46.39)"/>
<ellipse cx="186.33" cy="46.39" rx="1.7" ry="0.75" fill="#cbb646" transform="rotate(-22 186.33 46.39)"/>
<ellipse cx="186.54" cy="44.26" rx="1.7" ry="0.75" fill="#cbb646" transform="rotate(-22 186.54 44.26)"/>
<ellipse cx="191.14" cy="44.26" rx="1.7" ry="0.75" fill="#cbb646" transform="rotate(-22 191.14 44.26)"/>
<line x1="146.2" y1="60.2" x2="184.8" y2="43.2" stroke="#a8c0d2" stroke-width="0.8" />
<polygon points="150,40 157,34.5 174,34.5 167,40" fill="#6c9866" />
<polygon points="170,40 177,34.5 205.6,33.6 205.6,36.6 192,40" fill="#6c9866" />
<polygon points="205.6,33 219,33 216,37.8 203,37.8" fill="#d8a526" />
<path d="M106.1,18.7 L106.1,23.7 L106.1,23.7 L106.27,23.89 L106.74,24.09 L107.42,24.28 L108.18,24.48 L108.86,24.67 L109.33,24.86 L109.5,25.06 L109.33,25.25 L108.86,25.44 L108.18,25.64 L107.42,25.83 L106.74,26.03 L106.27,26.22 L106.1,26.41 L106.27,26.61 L106.74,26.8 L107.42,27 L108.18,27.19 L108.86,27.38 L109.33,27.58 L109.5,27.77 L109.33,27.97 L108.86,28.16 L108.18,28.35 L107.42,28.55 L106.74,28.74 L106.27,28.93 L106.1,29.13 L106.27,29.32 L106.74,29.52 L107.42,29.71 L108.18,29.9 L108.86,30.1 L109.33,30.29 L109.5,30.49 L109.33,30.68 L108.86,30.87 L108.18,31.07 L107.42,31.26 L106.74,31.46 L106.27,31.65 L106.1,31.84 L106.27,32.04 L106.74,32.23 L107.42,32.42 L108.18,32.62 L108.86,32.81 L109.33,33.01 L109.5,33.2 L109.5,35.7" stroke="#4a64c0" fill="none" stroke-width="0.75" stroke-linejoin="round"/>
<path d="M106.6,19.5 L106.6,24.5 L106.6,24.5 L106.77,24.69 L107.24,24.89 L107.92,25.08 L108.68,25.28 L109.36,25.47 L109.83,25.66 L110,25.86 L109.83,26.05 L109.36,26.24 L108.68,26.44 L107.92,26.63 L107.24,26.83 L106.77,27.02 L106.6,27.21 L106.77,27.41 L107.24,27.6 L107.92,27.8 L108.68,27.99 L109.36,28.18 L109.83,28.38 L110,28.57 L109.83,28.77 L109.36,28.96 L108.68,29.15 L107.92,29.35 L107.24,29.54 L106.77,29.73 L106.6,29.93 L106.77,30.12 L107.24,30.32 L107.92,30.51 L108.68,30.7 L109.36,30.9 L109.83,31.09 L110,31.29 L109.83,31.48 L109.36,31.67 L108.68,31.87 L107.92,32.06 L107.24,32.26 L106.77,32.45 L106.6,32.64 L106.77,32.84 L107.24,33.03 L107.92,33.22 L108.68,33.42 L109.36,33.61 L109.83,33.81 L110,34 L110,36.5" stroke="#cc3a50" fill="none" stroke-width="0.75" stroke-linejoin="round"/>
<path d="M110.9,17.2 L110.9,22.2 L110.9,22.2 L111.07,22.39 L111.54,22.59 L112.22,22.78 L112.98,22.98 L113.66,23.17 L114.13,23.36 L114.3,23.56 L114.13,23.75 L113.66,23.94 L112.98,24.14 L112.22,24.33 L111.54,24.53 L111.07,24.72 L110.9,24.91 L111.07,25.11 L111.54,25.3 L112.22,25.5 L112.98,25.69 L113.66,25.88 L114.13,26.08 L114.3,26.27 L114.13,26.47 L113.66,26.66 L112.98,26.85 L112.22,27.05 L111.54,27.24 L111.07,27.43 L110.9,27.63 L111.07,27.82 L111.54,28.02 L112.22,28.21 L112.98,28.4 L113.66,28.6 L114.13,28.79 L114.3,28.99 L114.13,29.18 L113.66,29.37 L112.98,29.57 L112.22,29.76 L111.54,29.96 L111.07,30.15 L110.9,30.34 L111.07,30.54 L111.54,30.73 L112.22,30.92 L112.98,31.12 L113.66,31.31 L114.13,31.51 L114.3,31.7 L114.3,34.2" stroke="#4a64c0" fill="none" stroke-width="0.75" stroke-linejoin="round"/>
<path d="M111.4,18 L111.4,23 L111.4,23 L111.57,23.19 L112.04,23.39 L112.72,23.58 L113.48,23.78 L114.16,23.97 L114.63,24.16 L114.8,24.36 L114.63,24.55 L114.16,24.74 L113.48,24.94 L112.72,25.13 L112.04,25.33 L111.57,25.52 L111.4,25.71 L111.57,25.91 L112.04,26.1 L112.72,26.3 L113.48,26.49 L114.16,26.68 L114.63,26.88 L114.8,27.07 L114.63,27.27 L114.16,27.46 L113.48,27.65 L112.72,27.85 L112.04,28.04 L111.57,28.23 L111.4,28.43 L111.57,28.62 L112.04,28.82 L112.72,29.01 L113.48,29.2 L114.16,29.4 L114.63,29.59 L114.8,29.79 L114.63,29.98 L114.16,30.17 L113.48,30.37 L112.72,30.56 L112.04,30.76 L111.57,30.95 L111.4,31.14 L111.57,31.34 L112.04,31.53 L112.72,31.72 L113.48,31.92 L114.16,32.11 L114.63,32.31 L114.8,32.5 L114.8,35" stroke="#cc3a50" fill="none" stroke-width="0.75" stroke-linejoin="round"/>
<path d="M116.7,14.7 L116.7,19.7 L116.7,19.7 L116.87,19.89 L117.34,20.09 L118.02,20.28 L118.78,20.48 L119.46,20.67 L119.93,20.86 L120.1,21.06 L119.93,21.25 L119.46,21.44 L118.78,21.64 L118.02,21.83 L117.34,22.03 L116.87,22.22 L116.7,22.41 L116.87,22.61 L117.34,22.8 L118.02,23 L118.78,23.19 L119.46,23.38 L119.93,23.58 L120.1,23.77 L119.93,23.97 L119.46,24.16 L118.78,24.35 L118.02,24.55 L117.34,24.74 L116.87,24.93 L116.7,25.13 L116.87,25.32 L117.34,25.52 L118.02,25.71 L118.78,25.9 L119.46,26.1 L119.93,26.29 L120.1,26.49 L119.93,26.68 L119.46,26.87 L118.78,27.07 L118.02,27.26 L117.34,27.46 L116.87,27.65 L116.7,27.84 L116.87,28.04 L117.34,28.23 L118.02,28.42 L118.78,28.62 L119.46,28.81 L119.93,29.01 L120.1,29.2 L120.1,31.7" stroke="#4a64c0" fill="none" stroke-width="0.75" stroke-linejoin="round"/>
<path d="M117.2,15.5 L117.2,20.5 L117.2,20.5 L117.37,20.69 L117.84,20.89 L118.52,21.08 L119.28,21.28 L119.96,21.47 L120.43,21.66 L120.6,21.86 L120.43,22.05 L119.96,22.24 L119.28,22.44 L118.52,22.63 L117.84,22.83 L117.37,23.02 L117.2,23.21 L117.37,23.41 L117.84,23.6 L118.52,23.8 L119.28,23.99 L119.96,24.18 L120.43,24.38 L120.6,24.57 L120.43,24.77 L119.96,24.96 L119.28,25.15 L118.52,25.35 L117.84,25.54 L117.37,25.73 L117.2,25.93 L117.37,26.12 L117.84,26.32 L118.52,26.51 L119.28,26.7 L119.96,26.9 L120.43,27.09 L120.6,27.29 L120.43,27.48 L119.96,27.67 L119.28,27.87 L118.52,28.06 L117.84,28.26 L117.37,28.45 L117.2,28.64 L117.37,28.84 L117.84,29.03 L118.52,29.22 L119.28,29.42 L119.96,29.61 L120.43,29.81 L120.6,30 L120.6,32.5" stroke="#cc3a50" fill="none" stroke-width="0.75" stroke-linejoin="round"/>
<path d="M125.6,16.2 L125.6,21.2 L125.6,21.2 L125.77,21.39 L126.24,21.59 L126.92,21.78 L127.68,21.98 L128.36,22.17 L128.83,22.36 L129,22.56 L128.83,22.75 L128.36,22.94 L127.68,23.14 L126.92,23.33 L126.24,23.53 L125.77,23.72 L125.6,23.91 L125.77,24.11 L126.24,24.3 L126.92,24.5 L127.68,24.69 L128.36,24.88 L128.83,25.08 L129,25.27 L128.83,25.47 L128.36,25.66 L127.68,25.85 L126.92,26.05 L126.24,26.24 L125.77,26.43 L125.6,26.63 L125.77,26.82 L126.24,27.02 L126.92,27.21 L127.68,27.4 L128.36,27.6 L128.83,27.79 L129,27.99 L128.83,28.18 L128.36,28.37 L127.68,28.57 L126.92,28.76 L126.24,28.96 L125.77,29.15 L125.6,29.34 L125.77,29.54 L126.24,29.73 L126.92,29.92 L127.68,30.12 L128.36,30.31 L128.83,30.51 L129,30.7 L129,33.2" stroke="#4a64c0" fill="none" stroke-width="0.75" stroke-linejoin="round"/>
<path d="M126.1,17 L126.1,22 L126.1,22 L126.27,22.19 L126.74,22.39 L127.42,22.58 L128.18,22.78 L128.86,22.97 L129.33,23.16 L129.5,23.36 L129.33,23.55 L128.86,23.74 L128.18,23.94 L127.42,24.13 L126.74,24.33 L126.27,24.52 L126.1,24.71 L126.27,24.91 L126.74,25.1 L127.42,25.3 L128.18,25.49 L128.86,25.68 L129.33,25.88 L129.5,26.07 L129.33,26.27 L128.86,26.46 L128.18,26.65 L127.42,26.85 L126.74,27.04 L126.27,27.23 L126.1,27.43 L126.27,27.62 L126.74,27.82 L127.42,28.01 L128.18,28.2 L128.86,28.4 L129.33,28.59 L129.5,28.79 L129.33,28.98 L128.86,29.17 L128.18,29.37 L127.42,29.56 L126.74,29.76 L126.27,29.95 L126.1,30.14 L126.27,30.34 L126.74,30.53 L127.42,30.72 L128.18,30.92 L128.86,31.11 L129.33,31.31 L129.5,31.5 L129.5,34" stroke="#cc3a50" fill="none" stroke-width="0.75" stroke-linejoin="round"/>
<path d="M132.6,18.7 L132.6,23.7 L132.6,23.7 L132.77,23.89 L133.24,24.09 L133.92,24.28 L134.68,24.48 L135.36,24.67 L135.83,24.86 L136,25.06 L135.83,25.25 L135.36,25.44 L134.68,25.64 L133.92,25.83 L133.24,26.03 L132.77,26.22 L132.6,26.41 L132.77,26.61 L133.24,26.8 L133.92,27 L134.68,27.19 L135.36,27.38 L135.83,27.58 L136,27.77 L135.83,27.97 L135.36,28.16 L134.68,28.35 L133.92,28.55 L133.24,28.74 L132.77,28.93 L132.6,29.13 L132.77,29.32 L133.24,29.52 L133.92,29.71 L134.68,29.9 L135.36,30.1 L135.83,30.29 L136,30.49 L135.83,30.68 L135.36,30.87 L134.68,31.07 L133.92,31.26 L133.24,31.46 L132.77,31.65 L132.6,31.84 L132.77,32.04 L133.24,32.23 L133.92,32.42 L134.68,32.62 L135.36,32.81 L135.83,33.01 L136,33.2 L136,35.7" stroke="#4a64c0" fill="none" stroke-width="0.75" stroke-linejoin="round"/>
<path d="M133.1,19.5 L133.1,24.5 L133.1,24.5 L133.27,24.69 L133.74,24.89 L134.42,25.08 L135.18,25.28 L135.86,25.47 L136.33,25.66 L136.5,25.86 L136.33,26.05 L135.86,26.24 L135.18,26.44 L134.42,26.63 L133.74,26.83 L133.27,27.02 L133.1,27.21 L133.27,27.41 L133.74,27.6 L134.42,27.8 L135.18,27.99 L135.86,28.18 L136.33,28.38 L136.5,28.57 L136.33,28.77 L135.86,28.96 L135.18,29.15 L134.42,29.35 L133.74,29.54 L133.27,29.73 L133.1,29.93 L133.27,30.12 L133.74,30.32 L134.42,30.51 L135.18,30.7 L135.86,30.9 L136.33,31.09 L136.5,31.29 L136.33,31.48 L135.86,31.67 L135.18,31.87 L134.42,32.06 L133.74,32.26 L133.27,32.45 L133.1,32.64 L133.27,32.84 L133.74,33.03 L134.42,33.22 L135.18,33.42 L135.86,33.61 L136.33,33.81 L136.5,34 L136.5,36.5" stroke="#cc3a50" fill="none" stroke-width="0.75" stroke-linejoin="round"/>
<path d="M139.7,15.7 L139.7,20.7 L139.7,20.7 L139.87,20.89 L140.34,21.09 L141.02,21.28 L141.78,21.48 L142.46,21.67 L142.93,21.86 L143.1,22.06 L142.93,22.25 L142.46,22.44 L141.78,22.64 L141.02,22.83 L140.34,23.03 L139.87,23.22 L139.7,23.41 L139.87,23.61 L140.34,23.8 L141.02,24 L141.78,24.19 L142.46,24.38 L142.93,24.58 L143.1,24.77 L142.93,24.97 L142.46,25.16 L141.78,25.35 L141.02,25.55 L140.34,25.74 L139.87,25.93 L139.7,26.13 L139.87,26.32 L140.34,26.52 L141.02,26.71 L141.78,26.9 L142.46,27.1 L142.93,27.29 L143.1,27.49 L142.93,27.68 L142.46,27.87 L141.78,28.07 L141.02,28.26 L140.34,28.46 L139.87,28.65 L139.7,28.84 L139.87,29.04 L140.34,29.23 L141.02,29.42 L141.78,29.62 L142.46,29.81 L142.93,30.01 L143.1,30.2 L143.1,32.7" stroke="#4a64c0" fill="none" stroke-width="0.75" stroke-linejoin="round"/>
<path d="M140.2,16.5 L140.2,21.5 L140.2,21.5 L140.37,21.69 L140.84,21.89 L141.52,22.08 L142.28,22.28 L142.96,22.47 L143.43,22.66 L143.6,22.86 L143.43,23.05 L142.96,23.24 L142.28,23.44 L141.52,23.63 L140.84,23.83 L140.37,24.02 L140.2,24.21 L140.37,24.41 L140.84,24.6 L141.52,24.8 L142.28,24.99 L142.96,25.18 L143.43,25.38 L143.6,25.57 L143.43,25.77 L142.96,25.96 L142.28,26.15 L141.52,26.35 L140.84,26.54 L140.37,26.73 L140.2,26.93 L140.37,27.12 L140.84,27.32 L141.52,27.51 L142.28,27.7 L142.96,27.9 L143.43,28.09 L143.6,28.29 L143.43,28.48 L142.96,28.67 L142.28,28.87 L141.52,29.06 L140.84,29.26 L140.37,29.45 L140.2,29.64 L140.37,29.84 L140.84,30.03 L141.52,30.22 L142.28,30.42 L142.96,30.61 L143.43,30.81 L143.6,31 L143.6,33.5" stroke="#cc3a50" fill="none" stroke-width="0.75" stroke-linejoin="round"/>
<path d="M108.8,43 L108.8,43 L109.15,43.42 L109.41,43.83 L109.5,44.25 L109.41,44.67 L109.15,45.08 L108.8,45.5 L108.45,45.92 L108.19,46.33 L108.1,46.75 L108.19,47.17 L108.45,47.58 L108.8,48 L109.15,48.42 L109.41,48.83 L109.5,49.25 L109.41,49.67 L109.15,50.08 L108.8,50.5 L108.45,50.92 L108.19,51.33 L108.1,51.75 L108.19,52.17 L108.45,52.58 L108.8,53 L108.8,53" stroke="#3cc6ea" fill="none" stroke-width="0.6" stroke-linejoin="round" />
<path d="M114.1,42 L114.1,42 L114.45,42.42 L114.71,42.83 L114.8,43.25 L114.71,43.67 L114.45,44.08 L114.1,44.5 L113.75,44.92 L113.49,45.33 L113.4,45.75 L113.49,46.17 L113.75,46.58 L114.1,47 L114.45,47.42 L114.71,47.83 L114.8,48.25 L114.71,48.67 L114.45,49.08 L114.1,49.5 L113.75,49.92 L113.49,50.33 L113.4,50.75 L113.49,51.17 L113.75,51.58 L114.1,52 L114.1,52" stroke="#3cc6ea" fill="none" stroke-width="0.6" stroke-linejoin="round" />
<path d="M119.4,43 L119.4,43 L119.75,43.42 L120.01,43.83 L120.1,44.25 L120.01,44.67 L119.75,45.08 L119.4,45.5 L119.05,45.92 L118.79,46.33 L118.7,46.75 L118.79,47.17 L119.05,47.58 L119.4,48 L119.75,48.42 L120.01,48.83 L120.1,49.25 L120.01,49.67 L119.75,50.08 L119.4,50.5 L119.05,50.92 L118.79,51.33 L118.7,51.75 L118.79,52.17 L119.05,52.58 L119.4,53 L119.4,53" stroke="#3cc6ea" fill="none" stroke-width="0.6" stroke-linejoin="round" />
<path d="M120.6,38 L120.6,38 L120.95,38.42 L121.21,38.83 L121.3,39.25 L121.21,39.67 L120.95,40.08 L120.6,40.5 L120.25,40.92 L119.99,41.33 L119.9,41.75 L119.99,42.17 L120.25,42.58 L120.6,43 L120.95,43.42 L121.21,43.83 L121.3,44.25 L121.21,44.67 L120.95,45.08 L120.6,45.5 L120.25,45.92 L119.99,46.33 L119.9,46.75 L119.99,47.17 L120.25,47.58 L120.6,48 L120.6,48" stroke="#3cc6ea" fill="none" stroke-width="0.6" stroke-linejoin="round" />
<path d="M124.7,42 L124.7,42 L125.05,42.38 L125.31,42.75 L125.4,43.12 L125.31,43.5 L125.05,43.88 L124.7,44.25 L124.35,44.62 L124.09,45 L124,45.38 L124.09,45.75 L124.35,46.12 L124.7,46.5 L125.05,46.88 L125.31,47.25 L125.4,47.62 L125.31,48 L125.05,48.38 L124.7,48.75 L124.35,49.12 L124.09,49.5 L124,49.88 L124.09,50.25 L124.35,50.62 L124.7,51 L124.7,51" stroke="#3cc6ea" fill="none" stroke-width="0.6" stroke-linejoin="round" />
<path d="M128.8,38 L128.8,38 L129.15,38.42 L129.41,38.83 L129.5,39.25 L129.41,39.67 L129.15,40.08 L128.8,40.5 L128.45,40.92 L128.19,41.33 L128.1,41.75 L128.19,42.17 L128.45,42.58 L128.8,43 L129.15,43.42 L129.41,43.83 L129.5,44.25 L129.41,44.67 L129.15,45.08 L128.8,45.5 L128.45,45.92 L128.19,46.33 L128.1,46.75 L128.19,47.17 L128.45,47.58 L128.8,48 L128.8,48" stroke="#3cc6ea" fill="none" stroke-width="0.6" stroke-linejoin="round" />
<path d="M130.8,43 L130.8,43 L131.15,43.42 L131.41,43.83 L131.5,44.25 L131.41,44.67 L131.15,45.08 L130.8,45.5 L130.45,45.92 L130.19,46.33 L130.1,46.75 L130.19,47.17 L130.45,47.58 L130.8,48 L131.15,48.42 L131.41,48.83 L131.5,49.25 L131.41,49.67 L131.15,50.08 L130.8,50.5 L130.45,50.92 L130.19,51.33 L130.1,51.75 L130.19,52.17 L130.45,52.58 L130.8,53 L130.8,53" stroke="#3cc6ea" fill="none" stroke-width="0.6" stroke-linejoin="round" />
<path d="M135.9,40 L135.9,40 L136.25,40.42 L136.51,40.83 L136.6,41.25 L136.51,41.67 L136.25,42.08 L135.9,42.5 L135.55,42.92 L135.29,43.33 L135.2,43.75 L135.29,44.17 L135.55,44.58 L135.9,45 L136.25,45.42 L136.51,45.83 L136.6,46.25 L136.51,46.67 L136.25,47.08 L135.9,47.5 L135.55,47.92 L135.29,48.33 L135.2,48.75 L135.29,49.17 L135.55,49.58 L135.9,50 L135.9,50" stroke="#3cc6ea" fill="none" stroke-width="0.6" stroke-linejoin="round" />
<path d="M142.9,38 L142.9,38 L143.25,38.4 L143.51,38.79 L143.6,39.19 L143.51,39.58 L143.25,39.98 L142.9,40.38 L142.55,40.77 L142.29,41.17 L142.2,41.56 L142.29,41.96 L142.55,42.35 L142.9,42.75 L143.25,43.15 L143.51,43.54 L143.6,43.94 L143.51,44.33 L143.25,44.73 L142.9,45.12 L142.55,45.52 L142.29,45.92 L142.2,46.31 L142.29,46.71 L142.55,47.1 L142.9,47.5 L142.9,47.5" stroke="#3cc6ea" fill="none" stroke-width="0.6" stroke-linejoin="round" />
<circle cx="108.8" cy="54.7" r="2.5" fill="#52c6c8"/>
<text x="108.8" y="56.5" style='font-family:"Liberation Serif",serif;font-size:5px;font-weight:bold;font-style:normal' text-anchor="middle" fill="#123" >S</text>
<circle cx="114.7" cy="54.1" r="2.5" fill="#52c6c8"/>
<text x="114.7" y="55.9" style='font-family:"Liberation Serif",serif;font-size:5px;font-weight:bold;font-style:normal' text-anchor="middle" fill="#123" >S</text>
<circle cx="119.4" cy="55.3" r="2.5" fill="#52c6c8"/>
<text x="119.4" y="57.1" style='font-family:"Liberation Serif",serif;font-size:5px;font-weight:bold;font-style:normal' text-anchor="middle" fill="#123" >S</text>
<circle cx="120.6" cy="50" r="2.5" fill="#52c6c8"/>
<text x="120.6" y="51.8" style='font-family:"Liberation Serif",serif;font-size:5px;font-weight:bold;font-style:normal' text-anchor="middle" fill="#123" >S</text>
<circle cx="125.3" cy="53.5" r="2.5" fill="#52c6c8"/>
<text x="125.3" y="55.3" style='font-family:"Liberation Serif",serif;font-size:5px;font-weight:bold;font-style:normal' text-anchor="middle" fill="#123" >S</text>
<circle cx="130" cy="50" r="2.5" fill="#52c6c8"/>
<text x="130" y="51.8" style='font-family:"Liberation Serif",serif;font-size:5px;font-weight:bold;font-style:normal' text-anchor="middle" fill="#123" >S</text>
<circle cx="130.6" cy="54.7" r="2.5" fill="#52c6c8"/>
<text x="130.6" y="56.5" style='font-family:"Liberation Serif",serif;font-size:5px;font-weight:bold;font-style:normal' text-anchor="middle" fill="#123" >S</text>
<circle cx="135.3" cy="51.2" r="2.5" fill="#52c6c8"/>
<text x="135.3" y="53" style='font-family:"Liberation Serif",serif;font-size:5px;font-weight:bold;font-style:normal' text-anchor="middle" fill="#123" >S</text>
<circle cx="142.9" cy="49.4" r="2.5" fill="#52c6c8"/>
<text x="142.9" y="51.2" style='font-family:"Liberation Serif",serif;font-size:5px;font-weight:bold;font-style:normal' text-anchor="middle" fill="#123" >S</text>
<circle cx="108.8" cy="40.8" r="3.3" fill="url(#gsph)"/>
<circle cx="114.1" cy="39.4" r="3.3" fill="url(#gsph)"/>
<circle cx="120.6" cy="35.3" r="3.3" fill="url(#gsph)"/>
<circle cx="119.4" cy="40.8" r="3.3" fill="url(#gsph)"/>
<circle cx="124.7" cy="39.6" r="3.3" fill="url(#gsph)"/>
<circle cx="128.8" cy="35.3" r="3.3" fill="url(#gsph)"/>
<circle cx="130.8" cy="40.8" r="3.3" fill="url(#gsph)"/>
<circle cx="135.9" cy="37.6" r="3.3" fill="url(#gsph)"/>
<circle cx="142.9" cy="35.3" r="3.3" fill="url(#gsph)"/>
<text x="160.5" y="33.4" style='font-family:"Liberation Serif",serif;font-size:10.6px;font-weight:normal;font-style:normal' text-anchor="middle" fill="#111" >G</text>
<text x="183.6" y="35.5" style='font-family:"Liberation Serif",serif;font-size:10.6px;font-weight:normal;font-style:normal' text-anchor="middle" fill="#111" >D</text>
<text x="217.2" y="45.4" style='font-family:"Liberation Serif",serif;font-size:11.5px;font-weight:bold;font-style:normal' text-anchor="middle" fill="#111" >S</text>
<text x="112.6" y="67.5" style='font-family:"Liberation Serif",serif;font-size:8.8px;font-weight:bold;font-style:normal' text-anchor="start" fill="#111" >Glass</text>
<path d="M189,31 L221,17.2" stroke="#6a6a6a" fill="none" stroke-width="0.75" />
<path d="M241.7,17.3 L256.6,17.3 L222,35.7 L252.5,35.7" stroke="#6a6a6a" fill="none" stroke-width="0.75" />
<ellipse cx="231.2" cy="16.5" rx="10.3" ry="8.6" fill="#fff" stroke="#222" stroke-width="0.8"/>
<text x="231.2" y="20.4" style='font-family:"Liberation Serif",serif;font-size:11px;font-weight:bold;font-style:normal' text-anchor="middle" fill="#111" ><tspan font-style="italic">V</tspan><tspan dy="1.2" style="font-size:7.5px">DS</tspan></text>
<ellipse cx="135.5" cy="81.3" rx="10.3" ry="8.6" fill="#fff" stroke="#222" stroke-width="0.8"/>
<text x="135.5" y="85.2" style='font-family:"Liberation Serif",serif;font-size:11px;font-weight:bold;font-style:normal' text-anchor="middle" fill="#111" ><tspan font-style="italic">V</tspan><tspan dy="1.2" style="font-size:7.5px">GS</tspan></text>
<line x1="332.3" y1="4.2" x2="332.3" y2="78.8" stroke="#c6cdf2" stroke-width="0.6" />
<line x1="357.4" y1="4.2" x2="357.4" y2="78.8" stroke="#c6cdf2" stroke-width="0.6" />
<line x1="375" y1="4.2" x2="375" y2="78.8" stroke="#c6cdf2" stroke-width="0.6" />
<line x1="401.1" y1="4.2" x2="401.1" y2="78.8" stroke="#c6cdf2" stroke-width="0.6" />
<line x1="312" y1="4.2" x2="314" y2="4.2" stroke="#333" stroke-width="0.8" />
<text x="310.8" y="7" style='font-family:"Liberation Serif",serif;font-size:7.8px;font-weight:bold;font-style:normal' text-anchor="end" fill="#111" >260</text>
<line x1="312" y1="13.52" x2="313.2" y2="13.52" stroke="#333" stroke-width="0.6" />
<line x1="312" y1="22.85" x2="314" y2="22.85" stroke="#333" stroke-width="0.8" />
<text x="310.8" y="25.65" style='font-family:"Liberation Serif",serif;font-size:7.8px;font-weight:bold;font-style:normal' text-anchor="end" fill="#111" >258</text>
<line x1="312" y1="32.17" x2="313.2" y2="32.17" stroke="#333" stroke-width="0.6" />
<line x1="312" y1="41.5" x2="314" y2="41.5" stroke="#333" stroke-width="0.8" />
<text x="310.8" y="44.3" style='font-family:"Liberation Serif",serif;font-size:7.8px;font-weight:bold;font-style:normal' text-anchor="end" fill="#111" >256</text>
<line x1="312" y1="50.83" x2="313.2" y2="50.83" stroke="#333" stroke-width="0.6" />
<line x1="312" y1="60.15" x2="314" y2="60.15" stroke="#333" stroke-width="0.8" />
<text x="310.8" y="62.95" style='font-family:"Liberation Serif",serif;font-size:7.8px;font-weight:bold;font-style:normal' text-anchor="end" fill="#111" >254</text>
<line x1="312" y1="69.47" x2="313.2" y2="69.47" stroke="#333" stroke-width="0.6" />
<line x1="312" y1="78.8" x2="314" y2="78.8" stroke="#333" stroke-width="0.8" />
<text x="310.8" y="81.6" style='font-family:"Liberation Serif",serif;font-size:7.8px;font-weight:bold;font-style:normal' text-anchor="end" fill="#111" >252</text>
<line x1="322.31" y1="78.8" x2="322.31" y2="76.8" stroke="#333" stroke-width="0.8" />
<line x1="332.62" y1="78.8" x2="332.62" y2="77.6" stroke="#333" stroke-width="0.6" />
<text x="322.31" y="87.2" style='font-family:"Liberation Serif",serif;font-size:7.8px;font-weight:bold;font-style:normal' text-anchor="middle" fill="#111" >1600</text>
<line x1="342.93" y1="78.8" x2="342.93" y2="76.8" stroke="#333" stroke-width="0.8" />
<line x1="353.24" y1="78.8" x2="353.24" y2="77.6" stroke="#333" stroke-width="0.6" />
<text x="342.93" y="87.2" style='font-family:"Liberation Serif",serif;font-size:7.8px;font-weight:bold;font-style:normal' text-anchor="middle" fill="#111" >2000</text>
<line x1="363.55" y1="78.8" x2="363.55" y2="76.8" stroke="#333" stroke-width="0.8" />
<line x1="373.86" y1="78.8" x2="373.86" y2="77.6" stroke="#333" stroke-width="0.6" />
<text x="363.55" y="87.2" style='font-family:"Liberation Serif",serif;font-size:7.8px;font-weight:bold;font-style:normal' text-anchor="middle" fill="#111" >2400</text>
<line x1="384.17" y1="78.8" x2="384.17" y2="76.8" stroke="#333" stroke-width="0.8" />
<line x1="394.48" y1="78.8" x2="394.48" y2="77.6" stroke="#333" stroke-width="0.6" />
<text x="384.17" y="87.2" style='font-family:"Liberation Serif",serif;font-size:7.8px;font-weight:bold;font-style:normal' text-anchor="middle" fill="#111" >2800</text>
<line x1="404.79" y1="78.8" x2="404.79" y2="76.8" stroke="#333" stroke-width="0.8" />
<line x1="415.1" y1="78.8" x2="415.1" y2="77.6" stroke="#333" stroke-width="0.6" />
<text x="404.79" y="87.2" style='font-family:"Liberation Serif",serif;font-size:7.8px;font-weight:bold;font-style:normal' text-anchor="middle" fill="#111" >3200</text>
<rect x="312" y="4.2" width="103.1" height="74.6" fill="none" stroke="#555" stroke-width="1.3"/>
<path d="M312.6,43 L316,43.3 L320,43.6 L324,43.8 L328,43.6 L331.6,43.2 L332.1,35.5 L332.6,43.2 L333.3,41.5 L335,37 L337.5,33.5 L340.4,32 L343,32.6 L346,34.2 L349,36 L352,37.3 L355,38.1 L358,38.4 L362,38.2 L366,37.6 L370,36.8 L374.2,36.2 L374.7,28.2 L375.2,36.2 L376,34.5 L378,29.5 L380.5,26 L383.5,24.6 L386.5,25.3 L389.5,27.6 L392.5,29.6 L395.5,30.7 L398.5,31.1 L402,31 L406,30.6 L410,30 L414.3,29.2" stroke="#ee2020" fill="none" stroke-width="1.5" stroke-linejoin="round"/>
<line x1="335" y1="25.8" x2="354.8" y2="25.8" stroke="#111" stroke-width="0.9" />
<polygon points="334,25.8 337.2,24.2 337.2,27.4" fill="#111" />
<polygon points="355.8,25.8 352.6,24.2 352.6,27.4" fill="#111" />
<line x1="377" y1="21.5" x2="398.8" y2="21.5" stroke="#111" stroke-width="0.9" />
<polygon points="376,21.5 379.2,19.9 379.2,23.1" fill="#111" />
<polygon points="399.8,21.5 396.6,19.9 396.6,23.1" fill="#111" />
<text x="345.2" y="19.8" style='font-family:"Liberation Serif",serif;font-size:8.2px;font-weight:bold;font-style:normal' text-anchor="middle" fill="#111" >326 s</text>
<text x="386.2" y="14.4" style='font-family:"Liberation Serif",serif;font-size:8.2px;font-weight:bold;font-style:normal' text-anchor="middle" fill="#111" >408 s</text>
<line x1="332.3" y1="55.2" x2="332.3" y2="47.3" stroke="#111" stroke-width="0.9" />
<polygon points="332.3,45.3 330.7,48.7 333.9,48.7" fill="#111" />
<line x1="374.6" y1="47.2" x2="374.6" y2="40" stroke="#111" stroke-width="0.9" />
<polygon points="374.6,38 373,41.4 376.2,41.4" fill="#111" />
<text x="333.4" y="62.3" style='font-family:"Liberation Serif",serif;font-size:8.2px;font-weight:bold;font-style:normal' text-anchor="start" fill="#111" >1 aM</text>
<text x="374.6" y="62.3" style='font-family:"Liberation Serif",serif;font-size:8.2px;font-weight:bold;font-style:normal' text-anchor="start" fill="#111" >100 aM</text>
<text x="365" y="96.2" style='font-family:"Liberation Serif",serif;font-size:8.2px;font-weight:bold;font-style:normal' text-anchor="middle" fill="#111" >Time (s)</text>
<text transform="translate(293.4,39.4) rotate(-90)" text-anchor="middle" style='font-family:"Liberation Serif",serif;font-size:7.1px;font-weight:bold'><tspan font-style="italic">I</tspan><tspan dy="1.5" style="font-size:5px">DS</tspan><tspan dy="-1.5"> (μA)</tspan></text>
<rect x="20.7" y="111.6" width="398.6" height="103.5" fill="none" stroke="#6cb2f6" stroke-width="1" stroke-dasharray="3,1.8"/>
<path d="M112,63 C108,78 96,84 84,86.5 C72,89.5 68,100 67.4,110" stroke="#6cb2f6" fill="none" stroke-width="1" stroke-dasharray="3,1.8"/>
<polygon points="67.4,111.2 66,108 68.8,108" fill="#6cb2f6" />
<path d="M288,111 C290,103 294,100 299,98.9 C305,97 307,92 307.6,89" stroke="#6cb2f6" fill="none" stroke-width="1" stroke-dasharray="3,1.8"/>
<polygon points="307.7,85.8 306,89.2 309.4,89.2" fill="#6cb2f6" />
<circle cx="38.8" cy="125.7" r="5.2" fill="url(#gsph)"/>
<text x="52.7" y="130.1" style='font-family:"Liberation Serif",serif;font-size:10.8px;font-weight:normal;font-style:normal' text-anchor="start" fill="#111" >CQD</text>
<line x1="88" y1="190.3" x2="136" y2="190.3" stroke="#b8c4d4" stroke-width="0.8" />
<line x1="203" y1="190.3" x2="254" y2="190.3" stroke="#b8c4d4" stroke-width="0.8" />
<line x1="320" y1="190.3" x2="352" y2="190.3" stroke="#b8c4d4" stroke-width="0.8" />
<polygon points="23.1,183 42.8,195.1 42.8,204.6 23.1,190.7" fill="url(#chipLeft)" />
<polygon points="42.8,195.1 84.4,189.3 84.4,198.5 42.8,204.6" fill="url(#chipFront)" />
<polygon points="42.8,204 84.4,197.9 84.4,198.9 42.8,205" fill="#e8d870" />
<polygon points="23.1,183 64.7,176.9 84.4,189.3 42.8,195.1" fill="url(#chipTop)" />
<text x="66.5" y="199.6" style='font-family:"Liberation Serif",serif;font-size:7.4px;font-weight:normal;font-style:normal' text-anchor="middle" fill="#222" >Glass</text>
<polygon points="137.3,183.6 157,195.7 157,205.2 137.3,191.3" fill="url(#chipLeft)" />
<polygon points="157,195.7 198.6,189.9 198.6,199.1 157,205.2" fill="url(#chipFront)" />
<polygon points="157,204.6 198.6,198.5 198.6,199.5 157,205.6" fill="#e8d870" />
<polygon points="137.3,183.6 178.9,177.5 198.6,189.9 157,195.7" fill="url(#chipTop)" />
<text x="180.7" y="200.2" style='font-family:"Liberation Serif",serif;font-size:7.4px;font-weight:normal;font-style:normal' text-anchor="middle" fill="#222" >Glass</text>
<polygon points="256.3,183.6 276,195.7 276,205.2 256.3,191.3" fill="url(#chipLeft)" />
<polygon points="276,195.7 317.6,189.9 317.6,199.1 276,205.2" fill="url(#chipFront)" />
<polygon points="276,204.6 317.6,198.5 317.6,199.5 276,205.6" fill="#e8d870" />
<polygon points="256.3,183.6 297.9,177.5 317.6,189.9 276,195.7" fill="url(#chipTop)" />
<text x="299.7" y="200.2" style='font-family:"Liberation Serif",serif;font-size:7.4px;font-weight:normal;font-style:normal' text-anchor="middle" fill="#222" >Glass</text>
<polygon points="353.7,183.4 373.4,195.5 373.4,205 353.7,191.1" fill="url(#chipLeft)" />
<polygon points="373.4,195.5 415,189.7 415,198.9 373.4,205" fill="url(#chipFront)" />
<polygon points="373.4,204.4 415,198.3 415,199.3 373.4,205.4" fill="#e8d870" />
<polygon points="353.7,183.4 395.3,177.3 415,189.7 373.4,195.5" fill="url(#chipTop)" />
<text x="397.1" y="200" style='font-family:"Liberation Serif",serif;font-size:7.4px;font-weight:normal;font-style:normal' text-anchor="middle" fill="#222" >Glass</text>
<path d="M39.2,171 L39.2,171 L39.66,171.38 L39.99,171.77 L40.1,172.15 L39.96,172.54 L39.62,172.92 L39.16,173.31 L38.71,173.69 L38.39,174.08 L38.3,174.46 L38.46,174.85 L38.82,175.23 L39.29,175.62 L39.73,176 L40.03,176.38 L40.09,176.77 L39.92,177.15 L39.54,177.54 L39.07,177.92 L38.64,178.31 L38.36,178.69 L38.31,179.08 L38.51,179.46 L38.9,179.85 L39.37,180.23 L39.8,180.62 L40.06,181 L39.2,181" stroke="#38c0e8" fill="none" stroke-width="0.7" stroke-linejoin="round" />
<circle cx="39.2" cy="183.6" r="3.7" fill="url(#ssph)"/>
<text x="39.2" y="186.2" style='font-family:"Liberation Serif",serif;font-size:7px;font-weight:bold;font-style:normal' text-anchor="middle" fill="#0a1a10" >S</text>
<circle cx="39.2" cy="166" r="4.8" fill="url(#gsph)"/>
<path d="M55,171 L55,171 L55.46,171.38 L55.79,171.77 L55.9,172.15 L55.76,172.54 L55.42,172.92 L54.96,173.31 L54.51,173.69 L54.19,174.08 L54.1,174.46 L54.26,174.85 L54.62,175.23 L55.09,175.62 L55.53,176 L55.83,176.38 L55.89,176.77 L55.72,177.15 L55.34,177.54 L54.87,177.92 L54.44,178.31 L54.16,178.69 L54.11,179.08 L54.31,179.46 L54.7,179.85 L55.17,180.23 L55.6,180.62 L55.86,181 L55,181" stroke="#38c0e8" fill="none" stroke-width="0.7" stroke-linejoin="round" />
<circle cx="55" cy="183.6" r="3.7" fill="url(#ssph)"/>
<text x="55" y="186.2" style='font-family:"Liberation Serif",serif;font-size:7px;font-weight:bold;font-style:normal' text-anchor="middle" fill="#0a1a10" >S</text>
<circle cx="55" cy="166" r="4.8" fill="url(#gsph)"/>
<path d="M69.8,171 L69.8,171 L70.26,171.38 L70.59,171.77 L70.7,172.15 L70.56,172.54 L70.22,172.92 L69.76,173.31 L69.31,173.69 L68.99,174.08 L68.9,174.46 L69.06,174.85 L69.42,175.23 L69.89,175.62 L70.33,176 L70.63,176.38 L70.69,176.77 L70.52,177.15 L70.14,177.54 L69.67,177.92 L69.24,178.31 L68.96,178.69 L68.91,179.08 L69.11,179.46 L69.5,179.85 L69.97,180.23 L70.4,180.62 L70.66,181 L69.8,181" stroke="#38c0e8" fill="none" stroke-width="0.7" stroke-linejoin="round" />
<circle cx="69.8" cy="183.6" r="3.7" fill="url(#ssph)"/>
<text x="69.8" y="186.2" style='font-family:"Liberation Serif",serif;font-size:7px;font-weight:bold;font-style:normal' text-anchor="middle" fill="#0a1a10" >S</text>
<circle cx="69.8" cy="166" r="4.8" fill="url(#gsph)"/>
<path d="M153.2,171 L153.2,171 L153.66,171.38 L153.99,171.77 L154.1,172.15 L153.96,172.54 L153.62,172.92 L153.16,173.31 L152.71,173.69 L152.39,174.08 L152.3,174.46 L152.46,174.85 L152.82,175.23 L153.29,175.62 L153.73,176 L154.03,176.38 L154.09,176.77 L153.92,177.15 L153.54,177.54 L153.07,177.92 L152.64,178.31 L152.36,178.69 L152.31,179.08 L152.51,179.46 L152.9,179.85 L153.37,180.23 L153.8,180.62 L154.06,181 L153.2,181" stroke="#38c0e8" fill="none" stroke-width="0.7" stroke-linejoin="round" />
<circle cx="153.2" cy="183.6" r="3.7" fill="url(#ssph)"/>
<text x="153.2" y="186.2" style='font-family:"Liberation Serif",serif;font-size:7px;font-weight:bold;font-style:normal' text-anchor="middle" fill="#0a1a10" >S</text>
<circle cx="153.2" cy="166" r="4.8" fill="url(#gsph)"/>
<path d="M169.1,171 L169.1,171 L169.56,171.38 L169.89,171.77 L170,172.15 L169.86,172.54 L169.52,172.92 L169.06,173.31 L168.61,173.69 L168.29,174.08 L168.2,174.46 L168.36,174.85 L168.72,175.23 L169.19,175.62 L169.63,176 L169.93,176.38 L169.99,176.77 L169.82,177.15 L169.44,177.54 L168.97,177.92 L168.54,178.31 L168.26,178.69 L168.21,179.08 L168.41,179.46 L168.8,179.85 L169.27,180.23 L169.7,180.62 L169.96,181 L169.1,181" stroke="#38c0e8" fill="none" stroke-width="0.7" stroke-linejoin="round" />
<circle cx="169.1" cy="183.6" r="3.7" fill="url(#ssph)"/>
<text x="169.1" y="186.2" style='font-family:"Liberation Serif",serif;font-size:7px;font-weight:bold;font-style:normal' text-anchor="middle" fill="#0a1a10" >S</text>
<circle cx="169.1" cy="166" r="4.8" fill="url(#gsph)"/>
<path d="M184.6,171 L184.6,171 L185.06,171.38 L185.39,171.77 L185.5,172.15 L185.36,172.54 L185.02,172.92 L184.56,173.31 L184.11,173.69 L183.79,174.08 L183.7,174.46 L183.86,174.85 L184.22,175.23 L184.69,175.62 L185.13,176 L185.43,176.38 L185.49,176.77 L185.32,177.15 L184.94,177.54 L184.47,177.92 L184.04,178.31 L183.76,178.69 L183.71,179.08 L183.91,179.46 L184.3,179.85 L184.77,180.23 L185.2,180.62 L185.46,181 L184.6,181" stroke="#38c0e8" fill="none" stroke-width="0.7" stroke-linejoin="round" />
<circle cx="184.6" cy="183.6" r="3.7" fill="url(#ssph)"/>
<text x="184.6" y="186.2" style='font-family:"Liberation Serif",serif;font-size:7px;font-weight:bold;font-style:normal' text-anchor="middle" fill="#0a1a10" >S</text>
<circle cx="184.6" cy="166" r="4.8" fill="url(#gsph)"/>
<path d="M271.3,171 L271.3,171 L271.76,171.38 L272.09,171.77 L272.2,172.15 L272.06,172.54 L271.72,172.92 L271.26,173.31 L270.81,173.69 L270.49,174.08 L270.4,174.46 L270.56,174.85 L270.92,175.23 L271.39,175.62 L271.83,176 L272.13,176.38 L272.19,176.77 L272.02,177.15 L271.64,177.54 L271.17,177.92 L270.74,178.31 L270.46,178.69 L270.41,179.08 L270.61,179.46 L271,179.85 L271.47,180.23 L271.9,180.62 L272.16,181 L271.3,181" stroke="#38c0e8" fill="none" stroke-width="0.7" stroke-linejoin="round" />
<circle cx="271.3" cy="183.6" r="3.7" fill="url(#ssph)"/>
<text x="271.3" y="186.2" style='font-family:"Liberation Serif",serif;font-size:7px;font-weight:bold;font-style:normal' text-anchor="middle" fill="#0a1a10" >S</text>
<circle cx="271.3" cy="166" r="4.8" fill="url(#gsph)"/>
<path d="M287.5,171 L287.5,171 L287.96,171.38 L288.29,171.77 L288.4,172.15 L288.26,172.54 L287.92,172.92 L287.46,173.31 L287.01,173.69 L286.69,174.08 L286.6,174.46 L286.76,174.85 L287.12,175.23 L287.59,175.62 L288.03,176 L288.33,176.38 L288.39,176.77 L288.22,177.15 L287.84,177.54 L287.37,177.92 L286.94,178.31 L286.66,178.69 L286.61,179.08 L286.81,179.46 L287.2,179.85 L287.67,180.23 L288.1,180.62 L288.36,181 L287.5,181" stroke="#38c0e8" fill="none" stroke-width="0.7" stroke-linejoin="round" />
<circle cx="287.5" cy="183.6" r="3.7" fill="url(#ssph)"/>
<text x="287.5" y="186.2" style='font-family:"Liberation Serif",serif;font-size:7px;font-weight:bold;font-style:normal' text-anchor="middle" fill="#0a1a10" >S</text>
<circle cx="287.5" cy="166" r="4.8" fill="url(#gsph)"/>
<path d="M302.7,171 L302.7,171 L303.16,171.38 L303.49,171.77 L303.6,172.15 L303.46,172.54 L303.12,172.92 L302.66,173.31 L302.21,173.69 L301.89,174.08 L301.8,174.46 L301.96,174.85 L302.32,175.23 L302.79,175.62 L303.23,176 L303.53,176.38 L303.59,176.77 L303.42,177.15 L303.04,177.54 L302.57,177.92 L302.14,178.31 L301.86,178.69 L301.81,179.08 L302.01,179.46 L302.4,179.85 L302.87,180.23 L303.3,180.62 L303.56,181 L302.7,181" stroke="#38c0e8" fill="none" stroke-width="0.7" stroke-linejoin="round" />
<circle cx="302.7" cy="183.6" r="3.7" fill="url(#ssph)"/>
<text x="302.7" y="186.2" style='font-family:"Liberation Serif",serif;font-size:7px;font-weight:bold;font-style:normal' text-anchor="middle" fill="#0a1a10" >S</text>
<circle cx="302.7" cy="166" r="4.8" fill="url(#gsph)"/>
<path d="M369.3,171 L369.3,171 L369.76,171.38 L370.09,171.77 L370.2,172.15 L370.06,172.54 L369.72,172.92 L369.26,173.31 L368.81,173.69 L368.49,174.08 L368.4,174.46 L368.56,174.85 L368.92,175.23 L369.39,175.62 L369.83,176 L370.13,176.38 L370.19,176.77 L370.02,177.15 L369.64,177.54 L369.17,177.92 L368.74,178.31 L368.46,178.69 L368.41,179.08 L368.61,179.46 L369,179.85 L369.47,180.23 L369.9,180.62 L370.16,181 L369.3,181" stroke="#38c0e8" fill="none" stroke-width="0.7" stroke-linejoin="round" />
<circle cx="369.3" cy="183.6" r="3.7" fill="url(#ssph)"/>
<text x="369.3" y="186.2" style='font-family:"Liberation Serif",serif;font-size:7px;font-weight:bold;font-style:normal' text-anchor="middle" fill="#0a1a10" >S</text>
<circle cx="369.3" cy="166" r="4.8" fill="url(#gsph)"/>
<path d="M384.7,171 L384.7,171 L385.16,171.38 L385.49,171.77 L385.6,172.15 L385.46,172.54 L385.12,172.92 L384.66,173.31 L384.21,173.69 L383.89,174.08 L383.8,174.46 L383.96,174.85 L384.32,175.23 L384.79,175.62 L385.23,176 L385.53,176.38 L385.59,176.77 L385.42,177.15 L385.04,177.54 L384.57,177.92 L384.14,178.31 L383.86,178.69 L383.81,179.08 L384.01,179.46 L384.4,179.85 L384.87,180.23 L385.3,180.62 L385.56,181 L384.7,181" stroke="#38c0e8" fill="none" stroke-width="0.7" stroke-linejoin="round" />
<circle cx="384.7" cy="183.6" r="3.7" fill="url(#ssph)"/>
<text x="384.7" y="186.2" style='font-family:"Liberation Serif",serif;font-size:7px;font-weight:bold;font-style:normal' text-anchor="middle" fill="#0a1a10" >S</text>
<circle cx="384.7" cy="166" r="4.8" fill="url(#gsph)"/>
<path d="M399.8,171 L399.8,171 L400.26,171.38 L400.59,171.77 L400.7,172.15 L400.56,172.54 L400.22,172.92 L399.76,173.31 L399.31,173.69 L398.99,174.08 L398.9,174.46 L399.06,174.85 L399.42,175.23 L399.89,175.62 L400.33,176 L400.63,176.38 L400.69,176.77 L400.52,177.15 L400.14,177.54 L399.67,177.92 L399.24,178.31 L398.96,178.69 L398.91,179.08 L399.11,179.46 L399.5,179.85 L399.97,180.23 L400.4,180.62 L400.66,181 L399.8,181" stroke="#38c0e8" fill="none" stroke-width="0.7" stroke-linejoin="round" />
<circle cx="399.8" cy="183.6" r="3.7" fill="url(#ssph)"/>
<text x="399.8" y="186.2" style='font-family:"Liberation Serif",serif;font-size:7px;font-weight:bold;font-style:normal' text-anchor="middle" fill="#0a1a10" >S</text>
<circle cx="399.8" cy="166" r="4.8" fill="url(#gsph)"/>
<path d="M104.5,144.5 L104.5,155 L104.5,155 L104.89,155.41 L105.97,155.83 L107.53,156.24 L109.27,156.65 L110.83,157.06 L111.91,157.48 L112.3,157.89 L111.91,158.3 L110.83,158.71 L109.27,159.13 L107.53,159.54 L105.97,159.95 L104.89,160.37 L104.5,160.78 L104.89,161.19 L105.97,161.6 L107.53,162.02 L109.27,162.43 L110.83,162.84 L111.91,163.25 L112.3,163.67 L111.91,164.08 L110.83,164.49 L109.27,164.9 L107.53,165.32 L105.97,165.73 L104.89,166.14 L104.5,166.56 L104.89,166.97 L105.97,167.38 L107.53,167.79 L109.27,168.21 L110.83,168.62 L111.91,169.03 L112.3,169.44 L111.91,169.86 L110.83,170.27 L109.27,170.68 L107.53,171.1 L105.97,171.51 L104.89,171.92 L104.5,172.33 L104.89,172.75 L105.97,173.16 L107.53,173.57 L109.27,173.98 L110.83,174.4 L111.91,174.81 L112.3,175.22 L111.91,175.63 L110.83,176.05 L109.27,176.46 L107.53,176.87 L105.97,177.29 L104.89,177.7 L104.5,178.11 L104.89,178.52 L105.97,178.94 L107.53,179.35 L109.27,179.76 L110.83,180.17 L111.91,180.59 L112.3,181 L112.3,188.4" stroke="#d4364a" fill="none" stroke-width="1.1" stroke-linejoin="round"/>
<path d="M145.4,117 L145.4,127 L145.4,127 L145.79,127.48 L146.87,127.95 L148.43,128.43 L150.17,128.9 L151.73,129.38 L152.81,129.86 L153.2,130.33 L152.81,130.81 L151.73,131.29 L150.17,131.76 L148.43,132.24 L146.87,132.71 L145.79,133.19 L145.4,133.67 L145.79,134.14 L146.87,134.62 L148.43,135.1 L150.17,135.57 L151.73,136.05 L152.81,136.52 L153.2,137 L152.81,137.48 L151.73,137.95 L150.17,138.43 L148.43,138.9 L146.87,139.38 L145.79,139.86 L145.4,140.33 L145.79,140.81 L146.87,141.29 L148.43,141.76 L150.17,142.24 L151.73,142.71 L152.81,143.19 L153.2,143.67 L152.81,144.14 L151.73,144.62 L150.17,145.1 L148.43,145.57 L146.87,146.05 L145.79,146.52 L145.4,147 L145.79,147.48 L146.87,147.95 L148.43,148.43 L150.17,148.9 L151.73,149.38 L152.81,149.86 L153.2,150.33 L152.81,150.81 L151.73,151.29 L150.17,151.76 L148.43,152.24 L146.87,152.71 L145.79,153.19 L145.4,153.67 L145.79,154.14 L146.87,154.62 L148.43,155.1 L150.17,155.57 L151.73,156.05 L152.81,156.52 L153.2,157 L153.2,161.5" stroke="#d4364a" fill="none" stroke-width="1.1" stroke-linejoin="round"/>
<path d="M160.8,117.5 L160.8,127 L160.8,127 L161.19,127.48 L162.27,127.95 L163.83,128.43 L165.57,128.9 L167.13,129.38 L168.21,129.86 L168.6,130.33 L168.21,130.81 L167.13,131.29 L165.57,131.76 L163.83,132.24 L162.27,132.71 L161.19,133.19 L160.8,133.67 L161.19,134.14 L162.27,134.62 L163.83,135.1 L165.57,135.57 L167.13,136.05 L168.21,136.52 L168.6,137 L168.21,137.48 L167.13,137.95 L165.57,138.43 L163.83,138.9 L162.27,139.38 L161.19,139.86 L160.8,140.33 L161.19,140.81 L162.27,141.29 L163.83,141.76 L165.57,142.24 L167.13,142.71 L168.21,143.19 L168.6,143.67 L168.21,144.14 L167.13,144.62 L165.57,145.1 L163.83,145.57 L162.27,146.05 L161.19,146.52 L160.8,147 L161.19,147.48 L162.27,147.95 L163.83,148.43 L165.57,148.9 L167.13,149.38 L168.21,149.86 L168.6,150.33 L168.21,150.81 L167.13,151.29 L165.57,151.76 L163.83,152.24 L162.27,152.71 L161.19,153.19 L160.8,153.67 L161.19,154.14 L162.27,154.62 L163.83,155.1 L165.57,155.57 L167.13,156.05 L168.21,156.52 L168.6,157 L168.6,161.5" stroke="#d4364a" fill="none" stroke-width="1.1" stroke-linejoin="round"/>
<path d="M176.5,118.5 L176.5,127 L176.5,127 L176.89,127.48 L177.97,127.95 L179.53,128.43 L181.27,128.9 L182.83,129.38 L183.91,129.86 L184.3,130.33 L183.91,130.81 L182.83,131.29 L181.27,131.76 L179.53,132.24 L177.97,132.71 L176.89,133.19 L176.5,133.67 L176.89,134.14 L177.97,134.62 L179.53,135.1 L181.27,135.57 L182.83,136.05 L183.91,136.52 L184.3,137 L183.91,137.48 L182.83,137.95 L181.27,138.43 L179.53,138.9 L177.97,139.38 L176.89,139.86 L176.5,140.33 L176.89,140.81 L177.97,141.29 L179.53,141.76 L181.27,142.24 L182.83,142.71 L183.91,143.19 L184.3,143.67 L183.91,144.14 L182.83,144.62 L181.27,145.1 L179.53,145.57 L177.97,146.05 L176.89,146.52 L176.5,147 L176.89,147.48 L177.97,147.95 L179.53,148.43 L181.27,148.9 L182.83,149.38 L183.91,149.86 L184.3,150.33 L183.91,150.81 L182.83,151.29 L181.27,151.76 L179.53,152.24 L177.97,152.71 L176.89,153.19 L176.5,153.67 L176.89,154.14 L177.97,154.62 L179.53,155.1 L181.27,155.57 L182.83,156.05 L183.91,156.52 L184.3,157 L184.3,161.5" stroke="#d4364a" fill="none" stroke-width="1.1" stroke-linejoin="round"/>
<path d="M216.6,143.3 L216.6,154 L216.6,154 L217.1,154.55 L218.48,155.1 L220.49,155.65 L222.71,156.2 L224.72,156.76 L226.1,157.31 L226.6,157.86 L226.1,158.41 L224.72,158.96 L222.71,159.51 L220.49,160.06 L218.48,160.61 L217.1,161.16 L216.6,161.71 L217.1,162.27 L218.48,162.82 L220.49,163.37 L222.71,163.92 L224.72,164.47 L226.1,165.02 L226.6,165.57 L226.1,166.12 L224.72,166.67 L222.71,167.22 L220.49,167.78 L218.48,168.33 L217.1,168.88 L216.6,169.43 L217.1,169.98 L218.48,170.53 L220.49,171.08 L222.71,171.63 L224.72,172.18 L226.1,172.73 L226.6,173.29 L226.1,173.84 L224.72,174.39 L222.71,174.94 L220.49,175.49 L218.48,176.04 L217.1,176.59 L216.6,177.14 L217.1,177.69 L218.48,178.24 L220.49,178.8 L222.71,179.35 L224.72,179.9 L226.1,180.45 L226.6,181 L226.6,187.2" stroke="#3cc4ea" fill="none" stroke-width="1.1" stroke-linejoin="round"/>
<path d="M260.5,117.1 L260.5,126.8 L260.5,126.8 L261,127.15 L262.38,127.5 L264.39,127.85 L266.61,128.2 L268.62,128.55 L270,128.9 L270.5,129.24 L270,129.59 L268.62,129.94 L266.61,130.29 L264.39,130.64 L262.38,130.99 L261,131.34 L260.5,131.69 L261,132.04 L262.38,132.39 L264.39,132.74 L266.61,133.09 L268.62,133.43 L270,133.78 L270.5,134.13 L270,134.48 L268.62,134.83 L266.61,135.18 L264.39,135.53 L262.38,135.88 L261,136.23 L260.5,136.58 L261,136.93 L262.38,137.28 L264.39,137.63 L266.61,137.97 L268.62,138.32 L270,138.67 L270.5,139.02 L270,139.37 L268.62,139.72 L266.61,140.07 L264.39,140.42 L262.38,140.77 L261,141.12 L260.5,141.47 L261,141.82 L262.38,142.17 L264.39,142.51 L266.61,142.86 L268.62,143.21 L270,143.56 L270.5,143.91 L270,144.26 L268.62,144.61 L266.61,144.96 L264.39,145.31 L262.38,145.66 L261,146.01 L260.5,146.36 L261,146.7 L262.38,147.05 L264.39,147.4 L266.61,147.75 L268.62,148.1 L270,148.45 L270.5,148.8 L270.5,160.3" stroke="#3cc4ea" fill="none" stroke-width="1.1" stroke-linejoin="round"/>
<path d="M261.3,118.3 L261.3,128 L261.3,128 L261.8,128.35 L263.18,128.7 L265.19,129.05 L267.41,129.4 L269.42,129.75 L270.8,130.1 L271.3,130.44 L270.8,130.79 L269.42,131.14 L267.41,131.49 L265.19,131.84 L263.18,132.19 L261.8,132.54 L261.3,132.89 L261.8,133.24 L263.18,133.59 L265.19,133.94 L267.41,134.29 L269.42,134.63 L270.8,134.98 L271.3,135.33 L270.8,135.68 L269.42,136.03 L267.41,136.38 L265.19,136.73 L263.18,137.08 L261.8,137.43 L261.3,137.78 L261.8,138.13 L263.18,138.48 L265.19,138.83 L267.41,139.17 L269.42,139.52 L270.8,139.87 L271.3,140.22 L270.8,140.57 L269.42,140.92 L267.41,141.27 L265.19,141.62 L263.18,141.97 L261.8,142.32 L261.3,142.67 L261.8,143.02 L263.18,143.37 L265.19,143.71 L267.41,144.06 L269.42,144.41 L270.8,144.76 L271.3,145.11 L270.8,145.46 L269.42,145.81 L267.41,146.16 L265.19,146.51 L263.18,146.86 L261.8,147.21 L261.3,147.56 L261.8,147.9 L263.18,148.25 L265.19,148.6 L267.41,148.95 L269.42,149.3 L270.8,149.65 L271.3,150 L271.3,161.5" stroke="#d4364a" fill="none" stroke-width="1.0" stroke-linejoin="round"/>
<path d="M277.6,117.1 L277.6,126.8 L277.6,126.8 L278.1,127.15 L279.48,127.5 L281.49,127.85 L283.71,128.2 L285.72,128.55 L287.1,128.9 L287.6,129.24 L287.1,129.59 L285.72,129.94 L283.71,130.29 L281.49,130.64 L279.48,130.99 L278.1,131.34 L277.6,131.69 L278.1,132.04 L279.48,132.39 L281.49,132.74 L283.71,133.09 L285.72,133.43 L287.1,133.78 L287.6,134.13 L287.1,134.48 L285.72,134.83 L283.71,135.18 L281.49,135.53 L279.48,135.88 L278.1,136.23 L277.6,136.58 L278.1,136.93 L279.48,137.28 L281.49,137.63 L283.71,137.97 L285.72,138.32 L287.1,138.67 L287.6,139.02 L287.1,139.37 L285.72,139.72 L283.71,140.07 L281.49,140.42 L279.48,140.77 L278.1,141.12 L277.6,141.47 L278.1,141.82 L279.48,142.17 L281.49,142.51 L283.71,142.86 L285.72,143.21 L287.1,143.56 L287.6,143.91 L287.1,144.26 L285.72,144.61 L283.71,144.96 L281.49,145.31 L279.48,145.66 L278.1,146.01 L277.6,146.36 L278.1,146.7 L279.48,147.05 L281.49,147.4 L283.71,147.75 L285.72,148.1 L287.1,148.45 L287.6,148.8 L287.6,160.3" stroke="#3cc4ea" fill="none" stroke-width="1.1" stroke-linejoin="round"/>
<path d="M278.4,118.3 L278.4,128 L278.4,128 L278.9,128.35 L280.28,128.7 L282.29,129.05 L284.51,129.4 L286.52,129.75 L287.9,130.1 L288.4,130.44 L287.9,130.79 L286.52,131.14 L284.51,131.49 L282.29,131.84 L280.28,132.19 L278.9,132.54 L278.4,132.89 L278.9,133.24 L280.28,133.59 L282.29,133.94 L284.51,134.29 L286.52,134.63 L287.9,134.98 L288.4,135.33 L287.9,135.68 L286.52,136.03 L284.51,136.38 L282.29,136.73 L280.28,137.08 L278.9,137.43 L278.4,137.78 L278.9,138.13 L280.28,138.48 L282.29,138.83 L284.51,139.17 L286.52,139.52 L287.9,139.87 L288.4,140.22 L287.9,140.57 L286.52,140.92 L284.51,141.27 L282.29,141.62 L280.28,141.97 L278.9,142.32 L278.4,142.67 L278.9,143.02 L280.28,143.37 L282.29,143.71 L284.51,144.06 L286.52,144.41 L287.9,144.76 L288.4,145.11 L287.9,145.46 L286.52,145.81 L284.51,146.16 L282.29,146.51 L280.28,146.86 L278.9,147.21 L278.4,147.56 L278.9,147.9 L280.28,148.25 L282.29,148.6 L284.51,148.95 L286.52,149.3 L287.9,149.65 L288.4,150 L288.4,161.5" stroke="#d4364a" fill="none" stroke-width="1.0" stroke-linejoin="round"/>
<path d="M291.9,117.1 L291.9,126.8 L291.9,126.8 L292.4,127.15 L293.78,127.5 L295.79,127.85 L298.01,128.2 L300.02,128.55 L301.4,128.9 L301.9,129.24 L301.4,129.59 L300.02,129.94 L298.01,130.29 L295.79,130.64 L293.78,130.99 L292.4,131.34 L291.9,131.69 L292.4,132.04 L293.78,132.39 L295.79,132.74 L298.01,133.09 L300.02,133.43 L301.4,133.78 L301.9,134.13 L301.4,134.48 L300.02,134.83 L298.01,135.18 L295.79,135.53 L293.78,135.88 L292.4,136.23 L291.9,136.58 L292.4,136.93 L293.78,137.28 L295.79,137.63 L298.01,137.97 L300.02,138.32 L301.4,138.67 L301.9,139.02 L301.4,139.37 L300.02,139.72 L298.01,140.07 L295.79,140.42 L293.78,140.77 L292.4,141.12 L291.9,141.47 L292.4,141.82 L293.78,142.17 L295.79,142.51 L298.01,142.86 L300.02,143.21 L301.4,143.56 L301.9,143.91 L301.4,144.26 L300.02,144.61 L298.01,144.96 L295.79,145.31 L293.78,145.66 L292.4,146.01 L291.9,146.36 L292.4,146.7 L293.78,147.05 L295.79,147.4 L298.01,147.75 L300.02,148.1 L301.4,148.45 L301.9,148.8 L301.9,160.3" stroke="#3cc4ea" fill="none" stroke-width="1.1" stroke-linejoin="round"/>
<path d="M292.7,118.3 L292.7,128 L292.7,128 L293.2,128.35 L294.58,128.7 L296.59,129.05 L298.81,129.4 L300.82,129.75 L302.2,130.1 L302.7,130.44 L302.2,130.79 L300.82,131.14 L298.81,131.49 L296.59,131.84 L294.58,132.19 L293.2,132.54 L292.7,132.89 L293.2,133.24 L294.58,133.59 L296.59,133.94 L298.81,134.29 L300.82,134.63 L302.2,134.98 L302.7,135.33 L302.2,135.68 L300.82,136.03 L298.81,136.38 L296.59,136.73 L294.58,137.08 L293.2,137.43 L292.7,137.78 L293.2,138.13 L294.58,138.48 L296.59,138.83 L298.81,139.17 L300.82,139.52 L302.2,139.87 L302.7,140.22 L302.2,140.57 L300.82,140.92 L298.81,141.27 L296.59,141.62 L294.58,141.97 L293.2,142.32 L292.7,142.67 L293.2,143.02 L294.58,143.37 L296.59,143.71 L298.81,144.06 L300.82,144.41 L302.2,144.76 L302.7,145.11 L302.2,145.46 L300.82,145.81 L298.81,146.16 L296.59,146.51 L294.58,146.86 L293.2,147.21 L292.7,147.56 L293.2,147.9 L294.58,148.25 L296.59,148.6 L298.81,148.95 L300.82,149.3 L302.2,149.65 L302.7,150 L302.7,161.5" stroke="#d4364a" fill="none" stroke-width="1.0" stroke-linejoin="round"/>
<path d="M324.3,143 L324.3,149.8 L324.3,149.8 L324.78,150.24 L326.11,150.69 L328.03,151.13 L330.17,151.58 L332.09,152.02 L333.42,152.47 L333.9,152.91 L333.42,153.36 L332.09,153.8 L330.17,154.24 L328.03,154.69 L326.11,155.13 L324.78,155.58 L324.3,156.02 L324.78,156.47 L326.11,156.91 L328.03,157.36 L330.17,157.8 L332.09,158.24 L333.42,158.69 L333.9,159.13 L333.42,159.58 L332.09,160.02 L330.17,160.47 L328.03,160.91 L326.11,161.36 L324.78,161.8 L324.3,162.24 L324.78,162.69 L326.11,163.13 L328.03,163.58 L330.17,164.02 L332.09,164.47 L333.42,164.91 L333.9,165.36 L333.42,165.8 L332.09,166.24 L330.17,166.69 L328.03,167.13 L326.11,167.58 L324.78,168.02 L324.3,168.47 L324.78,168.91 L326.11,169.36 L328.03,169.8 L330.17,170.24 L332.09,170.69 L333.42,171.13 L333.9,171.58 L333.42,172.02 L332.09,172.47 L330.17,172.91 L328.03,173.36 L326.11,173.8 L324.78,174.24 L324.3,174.69 L324.78,175.13 L326.11,175.58 L328.03,176.02 L330.17,176.47 L332.09,176.91 L333.42,177.36 L333.9,177.8 L333.9,186" stroke="#3cc4ea" fill="none" stroke-width="1.1" stroke-linejoin="round"/>
<path d="M325.1,144.2 L325.1,151 L325.1,151 L325.58,151.44 L326.91,151.89 L328.83,152.33 L330.97,152.78 L332.89,153.22 L334.22,153.67 L334.7,154.11 L334.22,154.56 L332.89,155 L330.97,155.44 L328.83,155.89 L326.91,156.33 L325.58,156.78 L325.1,157.22 L325.58,157.67 L326.91,158.11 L328.83,158.56 L330.97,159 L332.89,159.44 L334.22,159.89 L334.7,160.33 L334.22,160.78 L332.89,161.22 L330.97,161.67 L328.83,162.11 L326.91,162.56 L325.58,163 L325.1,163.44 L325.58,163.89 L326.91,164.33 L328.83,164.78 L330.97,165.22 L332.89,165.67 L334.22,166.11 L334.7,166.56 L334.22,167 L332.89,167.44 L330.97,167.89 L328.83,168.33 L326.91,168.78 L325.58,169.22 L325.1,169.67 L325.58,170.11 L326.91,170.56 L328.83,171 L330.97,171.44 L332.89,171.89 L334.22,172.33 L334.7,172.78 L334.22,173.22 L332.89,173.67 L330.97,174.11 L328.83,174.56 L326.91,175 L325.58,175.44 L325.1,175.89 L325.58,176.33 L326.91,176.78 L328.83,177.22 L330.97,177.67 L332.89,178.11 L334.22,178.56 L334.7,179 L334.7,187.2" stroke="#d4364a" fill="none" stroke-width="1.0" stroke-linejoin="round"/>
<path d="M346.2,156.9 L352.4,150.4 L352.72,149.72 L353.03,148.36 L353.35,146.53 L353.67,144.53 L353.98,142.7 L354.3,141.34 L354.61,140.66 L354.93,140.73 L355.25,141.48 L355.56,142.69 L355.88,144.08 L356.2,145.3 L356.51,146.04 L356.83,146.11 L357.14,145.43 L357.46,144.07 L357.78,142.24 L358.09,140.24 L358.41,138.41 L358.73,137.05 L359.04,136.37 L359.36,136.44 L359.68,137.19 L359.99,138.41 L360.31,139.79 L360.62,141.01 L360.94,141.76 L361.26,141.83 L361.57,141.15 L361.89,139.79 L362.21,137.96 L362.52,135.96 L362.84,134.13 L363.16,132.77 L363.47,132.09 L363.79,132.16 L364.1,132.9 L364.42,134.12 L364.74,135.51 L365.05,136.72 L365.37,137.47 L365.69,137.54 L366,136.86 L366.32,135.5 L366.63,133.67 L366.95,131.67 L367.27,129.84 L367.58,128.48 L367.9,127.8 L376.5,120.2" stroke="#3cc4ea" fill="none" stroke-width="1.1" stroke-linejoin="round"/>
<path d="M345.3,157.5 L351.5,151 L351.82,150.32 L352.13,148.96 L352.45,147.13 L352.77,145.13 L353.08,143.3 L353.4,141.94 L353.71,141.26 L354.03,141.33 L354.35,142.08 L354.66,143.29 L354.98,144.68 L355.3,145.9 L355.61,146.64 L355.93,146.71 L356.24,146.03 L356.56,144.67 L356.88,142.84 L357.19,140.84 L357.51,139.01 L357.83,137.65 L358.14,136.97 L358.46,137.04 L358.78,137.79 L359.09,139.01 L359.41,140.39 L359.72,141.61 L360.04,142.36 L360.36,142.43 L360.67,141.75 L360.99,140.39 L361.31,138.56 L361.62,136.56 L361.94,134.73 L362.26,133.37 L362.57,132.69 L362.89,132.76 L363.2,133.5 L363.52,134.72 L363.84,136.11 L364.15,137.32 L364.47,138.07 L364.79,138.14 L365.1,137.46 L365.42,136.1 L365.73,134.27 L366.05,132.27 L366.37,130.44 L366.68,129.08 L367,128.4 L375.6,120.8" stroke="#d4364a" fill="none" stroke-width="1.0" stroke-linejoin="round"/>
<path d="M365.4,155.8 L371.9,149.9 L372.23,149.23 L372.55,147.88 L372.88,146.06 L373.21,144.07 L373.53,142.25 L373.86,140.9 L374.19,140.23 L374.51,140.31 L374.84,141.07 L375.17,142.3 L375.49,143.69 L375.82,144.92 L376.14,145.68 L376.47,145.76 L376.8,145.08 L377.12,143.73 L377.45,141.91 L377.78,139.93 L378.1,138.11 L378.43,136.76 L378.76,136.09 L379.08,136.17 L379.41,136.92 L379.74,138.15 L380.06,139.55 L380.39,140.78 L380.72,141.53 L381.04,141.61 L381.37,140.94 L381.7,139.59 L382.02,137.77 L382.35,135.79 L382.68,133.97 L383,132.62 L383.33,131.94 L383.66,132.02 L383.98,132.78 L384.31,134.01 L384.63,135.4 L384.96,136.63 L385.29,137.39 L385.61,137.47 L385.94,136.8 L386.27,135.45 L386.59,133.63 L386.92,131.64 L387.25,129.82 L387.57,128.47 L387.9,127.8 L396.4,120.2" stroke="#3cc4ea" fill="none" stroke-width="1.1" stroke-linejoin="round"/>
<path d="M364.5,156.4 L371,150.5 L371.33,149.83 L371.65,148.48 L371.98,146.66 L372.31,144.67 L372.63,142.85 L372.96,141.5 L373.29,140.83 L373.61,140.91 L373.94,141.67 L374.27,142.9 L374.59,144.29 L374.92,145.52 L375.24,146.28 L375.57,146.36 L375.9,145.68 L376.22,144.33 L376.55,142.51 L376.88,140.53 L377.2,138.71 L377.53,137.36 L377.86,136.69 L378.18,136.77 L378.51,137.52 L378.84,138.75 L379.16,140.15 L379.49,141.38 L379.82,142.13 L380.14,142.21 L380.47,141.54 L380.8,140.19 L381.12,138.37 L381.45,136.39 L381.78,134.57 L382.1,133.22 L382.43,132.54 L382.76,132.62 L383.08,133.38 L383.41,134.61 L383.73,136 L384.06,137.23 L384.39,137.99 L384.71,138.07 L385.04,137.4 L385.37,136.05 L385.69,134.23 L386.02,132.24 L386.35,130.42 L386.67,129.07 L387,128.4 L395.5,120.8" stroke="#d4364a" fill="none" stroke-width="1.0" stroke-linejoin="round"/>
<path d="M382.9,156.9 L389.9,151.4 L390.31,150.8 L390.72,149.52 L391.12,147.77 L391.53,145.86 L391.94,144.11 L392.35,142.83 L392.76,142.23 L393.17,142.38 L393.57,143.21 L393.98,144.51 L394.39,145.98 L394.8,147.28 L395.21,148.11 L395.61,148.26 L396.02,147.66 L396.43,146.38 L396.84,144.63 L397.25,142.71 L397.66,140.97 L398.06,139.69 L398.47,139.09 L398.88,139.24 L399.29,140.07 L399.7,141.37 L400.1,142.83 L400.51,144.13 L400.92,144.96 L401.33,145.11 L401.74,144.51 L402.14,143.23 L402.55,141.49 L402.96,139.57 L403.37,137.82 L403.78,136.54 L404.19,135.94 L404.59,136.09 L405,136.92 L405.41,138.22 L405.82,139.69 L406.23,140.99 L406.63,141.82 L407.04,141.97 L407.45,141.37 L407.86,140.09 L408.27,138.34 L408.68,136.43 L409.08,134.68 L409.49,133.4 L409.9,132.8 L417.4,125.4" stroke="#3cc4ea" fill="none" stroke-width="1.1" stroke-linejoin="round"/>
<path d="M382,157.5 L389,152 L389.41,151.4 L389.82,150.12 L390.22,148.37 L390.63,146.46 L391.04,144.71 L391.45,143.43 L391.86,142.83 L392.27,142.98 L392.67,143.81 L393.08,145.11 L393.49,146.58 L393.9,147.88 L394.31,148.71 L394.71,148.86 L395.12,148.26 L395.53,146.98 L395.94,145.23 L396.35,143.31 L396.76,141.57 L397.16,140.29 L397.57,139.69 L397.98,139.84 L398.39,140.67 L398.8,141.97 L399.2,143.43 L399.61,144.73 L400.02,145.56 L400.43,145.71 L400.84,145.11 L401.24,143.83 L401.65,142.09 L402.06,140.17 L402.47,138.42 L402.88,137.14 L403.29,136.54 L403.69,136.69 L404.1,137.52 L404.51,138.82 L404.92,140.29 L405.33,141.59 L405.73,142.42 L406.14,142.57 L406.55,141.97 L406.96,140.69 L407.37,138.94 L407.78,137.03 L408.18,135.28 L408.59,134 L409,133.4 L416.5,126" stroke="#d4364a" fill="none" stroke-width="1.0" stroke-linejoin="round"/>
<text x="87.3" y="203.3" style='font-family:"Liberation Serif",serif;font-size:12.2px;font-weight:normal;font-style:normal' text-anchor="start" fill="#111" >Probe DNA</text>
<text x="203.6" y="203.9" style='font-family:"Liberation Serif",serif;font-size:12.2px;font-weight:normal;font-style:normal' text-anchor="start" fill="#111" >Target DNA</text>
<text x="320.4" y="202.4" style='font-family:"Liberation Serif",serif;font-size:12.3px;font-weight:normal;font-style:normal' text-anchor="start" fill="#111" >dsDNA</text>
<defs>
<radialGradient id="ell" cx="0.5" cy="0.5" r="0.5"><stop offset="0" stop-color="#e6fd62"/><stop offset="0.85" stop-color="#e6fc60"/><stop offset="1" stop-color="#e2f65c"/></radialGradient>
</defs>
<text transform="translate(0.9,238.2) scale(0.94,1)" style='font-family:"Liberation Sans",sans-serif;font-size:17.6px;font-weight:bold'>(c)</text>
<rect x="42.4" y="245.7" width="89" height="91.2" fill="#e7eaeb"/>
<rect x="64.5" y="245.7" width="44.5" height="91.2" fill="#e8f9f8"/>
<rect x="56" y="270.4" width="58" height="3.6" fill="#f2f77a" fill-opacity="0.85"/>
<polygon points="52.5,268.4 58,268.4 63.5,272.2 58,276 52.5,276" fill="#eef640" />
<polygon points="120.8,268.4 115,268.4 109.5,272.2 115,276 120.8,276" fill="#eef640" />
<rect x="56" y="292.8" width="58" height="3.6" fill="#f2f77a" fill-opacity="0.85"/>
<polygon points="52.5,290.8 58,290.8 63.5,294.6 58,298.4 52.5,298.4" fill="#eef640" />
<polygon points="120.8,290.8 115,290.8 109.5,294.6 115,298.4 120.8,298.4" fill="#eef640" />
<rect x="56" y="312.5" width="58" height="3.6" fill="#f2f77a" fill-opacity="0.85"/>
<polygon points="52.5,310.5 58,310.5 63.5,314.3 58,318.1 52.5,318.1" fill="#eef640" />
<polygon points="120.8,310.5 115,310.5 109.5,314.3 115,318.1 120.8,318.1" fill="#eef640" />
<rect x="85.1" y="254.7" width="2.4" height="80" fill="#f0bce8"/>
<circle cx="86.3" cy="294.4" r="5.6" fill="#fbf0ee" stroke="#f2d2cc" stroke-width="1.3"/>
<polygon points="86.3,309 91,314.3 86.3,319.6 81.6,314.3" fill="#fbf0ee" stroke="#f2d2cc" stroke-width="1.2"/>
<rect x="84.4" y="318" width="3.8" height="16" fill="#ecd4f0"/>
<rect x="78.3" y="263.3" width="17.4" height="17.2" fill="#cce4f4" stroke="#9cc2e6" stroke-width="0.7"/>
<rect x="84.6" y="262" width="3.4" height="20" fill="#eeaadf"/>
<text x="39.6" y="240.4" style='font-family:"Liberation Sans",sans-serif;font-size:10.3px;font-weight:bold;font-style:normal' text-anchor="start" fill="#000" >PDMS</text>
<text x="97" y="239.9" style='font-family:"Liberation Sans",sans-serif;font-size:10.3px;font-weight:bold;font-style:normal' text-anchor="start" fill="#000" >PEDOT:PSS</text>
<line x1="59.5" y1="243.5" x2="71.2" y2="256.22" stroke="#111" stroke-width="0.9" />
<polygon points="73.3,258.5 69.67,256.95 72.05,254.75" fill="#111" />
<line x1="106" y1="243" x2="93.81" y2="259.98" stroke="#111" stroke-width="0.9" />
<polygon points="92,262.5 92.78,258.63 95.42,260.52" fill="#111" />
<text x="22.7" y="276.5" style='font-family:"Liberation Sans",sans-serif;font-size:10.2px;font-weight:bold;font-style:normal' text-anchor="start" fill="#000" >Au (S)</text>
<text x="120.7" y="276.6" style='font-family:"Liberation Sans",sans-serif;font-size:10.2px;font-weight:bold;font-style:normal' text-anchor="start" fill="#000" >Au (D)</text>
<text x="120.7" y="299.4" style='font-family:"Liberation Sans",sans-serif;font-size:10.2px;font-weight:bold;font-style:normal' text-anchor="start" fill="#000" >Au (G)</text>
<text x="120.7" y="318" style='font-family:"Liberation Sans",sans-serif;font-size:10.2px;font-weight:bold;font-style:normal' text-anchor="start" fill="#000" >Au</text>
<text x="139.2" y="325.6" style='font-family:"Liberation Sans",sans-serif;font-size:10.3px;font-weight:bold;font-style:normal' text-anchor="start" fill="#000" >PET</text>
<text x="139.2" y="335.4" style='font-family:"Liberation Sans",sans-serif;font-size:10.3px;font-weight:bold;font-style:normal' text-anchor="start" fill="#000" >substrate</text>
<line x1="136" y1="327.7" x2="120.3" y2="327.7" stroke="#111" stroke-width="0.9" />
<polygon points="117.2,327.7 120.8,326.08 120.8,329.32" fill="#111" />
<text x="79" y="357.8" style='font-family:"Liberation Sans",sans-serif;font-size:10.5px;font-weight:bold;font-style:normal' text-anchor="start" fill="#000" >Micro-channel</text>
<line x1="86.3" y1="349.5" x2="86.3" y2="332.3" stroke="#111" stroke-width="0.9" />
<polygon points="86.3,329.2 87.92,332.8 84.68,332.8" fill="#111" />
<circle cx="33.3" cy="304.5" r="6.8" fill="none" stroke="#2e34b4" stroke-width="1.2"/>
<path d="M33.3,297.7 L33.3,295 L57.3,295" stroke="#2e34b4" fill="none" stroke-width="1.1" />
<path d="M33.3,311.3 L33.3,314.6 L57.3,314.6 L57.3,324" stroke="#2e34b4" fill="none" stroke-width="1.1" />
<path d="M29.6,306.3 L31.4,306.3 L31.4,302 L35.2,302 L35.2,306.3 L37,306.3" stroke="#2e34b4" fill="none" stroke-width="0.9" />
<line x1="53.4" y1="324.2" x2="61.6" y2="324.2" stroke="#2e34b4" stroke-width="1.1" />
<line x1="55.2" y1="327.6" x2="59.6" y2="327.6" stroke="#2e34b4" stroke-width="1.1" />
<line x1="56.6" y1="330.8" x2="58.2" y2="330.8" stroke="#2e34b4" stroke-width="1.0" />
<ellipse cx="62.5" cy="395.7" rx="37" ry="19.6" fill="url(#ell)"/>
<ellipse cx="204" cy="396" rx="37" ry="19.6" fill="url(#ell)"/>
<ellipse cx="343" cy="396" rx="37" ry="19.4" fill="url(#ell)"/>
<line x1="108" y1="398" x2="152" y2="398" stroke="#48c030" stroke-width="1.4" />
<polygon points="157.5,398 151.5,400.7 151.5,395.3" fill="#48c030" />
<line x1="248.4" y1="398.3" x2="292.1" y2="398.3" stroke="#48c030" stroke-width="1.4" />
<polygon points="297.6,398.3 291.6,401 291.6,395.6" fill="#48c030" />
<path d="M86.2,295.8 C72,318 58,352 55.6,392" stroke="#48c030" fill="none" stroke-width="1.4" />
<polygon points="55.2,397.2 53,390.5 58,391" fill="#48c030" />
<text x="40.9" y="433.4" style='font-family:"Liberation Sans",sans-serif;font-size:12.6px;font-weight:bold;font-style:normal' text-anchor="start" fill="#000" >Control</text>
<text x="183.7" y="433.5" style='font-family:"Liberation Sans",sans-serif;font-size:12.7px;font-weight:bold;font-style:normal' text-anchor="start" fill="#000" >ssDNA</text>
<text x="324" y="432.6" style='font-family:"Liberation Sans",sans-serif;font-size:12.6px;font-weight:bold;font-style:normal' text-anchor="start" fill="#000" >dsDNA</text>
<polygon points="161.3,281.5 274.5,350.4 274.5,354.8 161.3,285.1" fill="#6f7b7a" />
<polygon points="274.5,350.4 389.1,282.2 389.1,285.8 274.5,354.8" fill="#b4bcbf" />
<polygon points="161.3,281.5 271.5,237.6 389.1,282.2 274.5,350.4" fill="#e5e8e7" />
<defs><linearGradient id="pdmsTop" x1="0" x2="1" y1="0" y2="0"><stop offset="0" stop-color="#f6fdfc"/><stop offset="0.35" stop-color="#e8faf7"/><stop offset="1" stop-color="#dcf6f2"/></linearGradient></defs>
<polygon points="197.5,263 262,240 362,290 305.5,318" fill="url(#pdmsTop)" />
<polygon points="197.5,263 305.5,318 305.5,327 197.5,272" fill="#cdf3ed" />
<polygon points="305.5,318 362,290 362,298 305.5,327" fill="#d8f5f1" />
<line x1="210.4" y1="287.8" x2="287.5" y2="255.5" stroke="#f2f49a" stroke-width="4.4" />
<polygon points="203.4,286.3 214.9,283 217.9,289.3 206.4,292.6" fill="#eef24c" />
<polygon points="280.5,254 292,250.7 295,257 283.5,260.3" fill="#eef24c" />
<line x1="237.3" y1="301.8" x2="313.5" y2="265.2" stroke="#f2f49a" stroke-width="4.4" />
<polygon points="230.3,300.3 241.8,297 244.8,303.3 233.3,306.6" fill="#eef24c" />
<polygon points="306.5,263.7 318,260.4 321,266.7 309.5,270" fill="#eef24c" />
<line x1="262.5" y1="316.3" x2="340.5" y2="276.5" stroke="#f2f49a" stroke-width="4.4" />
<polygon points="255.5,314.8 267,311.5 270,317.8 258.5,321.1" fill="#eef24c" />
<polygon points="333.5,275 345,271.7 348,278 336.5,281.3" fill="#eef24c" />
<path d="M236,262.5 L281,281 L306.5,292.3 L322,298.5" stroke="#eba6de" fill="none" stroke-width="4.8" stroke-linecap="round"/>
<polygon points="229.9,270.4 248,262.3 275.8,271.3 257.2,279.5" fill="#aac8ec" fill-opacity="0.75" stroke="#8cb0dc" stroke-width="0.6"/>
<path d="M236,262.5 L262,273.4" stroke="#eba6de" fill="none" stroke-width="4.8" />
<rect x="233.6" y="249.5" width="4.8" height="14" rx="2" fill="#eba6de"/>
<ellipse cx="280.2" cy="282.6" rx="14.8" ry="8" fill="#eba6de"/>
<ellipse cx="280.2" cy="281" rx="14.4" ry="7.4" fill="#f6d4c6"/>
<ellipse cx="305.5" cy="294.2" rx="8.8" ry="4.8" fill="#eba6de"/>
<ellipse cx="305.5" cy="293" rx="8.5" ry="4.3" fill="#f6d4c6"/>
<rect x="320.2" y="288" width="4.8" height="14" rx="2" fill="#eba6de"/>
<text x="221" y="242.4" style='font-family:"Liberation Sans",sans-serif;font-size:10.3px;font-weight:bold;font-style:normal' text-anchor="start" fill="#000" >Inlet</text>
<text x="328.2" y="291.6" style='font-family:"Liberation Sans",sans-serif;font-size:10.7px;font-weight:bold;font-style:normal' text-anchor="start" fill="#000" >Outlet</text>
<path d="M177.9,349.3 Q173.5,372.65 181.1,396" stroke="#b47ad8" fill="none" stroke-width="1.2" />
<polygon points="177.7,349.86 181,351.76 180.7,352.76 177.7,353.06" fill="#2434a8" />
<polygon points="177.16,353.63 180.46,355.53 180.16,356.53 177.16,356.83" fill="#a860d0" />
<polygon points="176.78,357.39 180.08,359.29 179.78,360.29 176.78,360.59" fill="#a860d0" />
<polygon points="176.56,361.16 179.86,363.06 179.56,364.06 176.56,364.36" fill="#e0b040" />
<polygon points="176.49,364.92 179.79,366.82 179.49,367.82 176.49,368.12" fill="#a860d0" />
<polygon points="176.57,368.69 179.87,370.59 179.57,371.59 176.57,371.89" fill="#2434a8" />
<polygon points="176.82,372.46 180.12,374.36 179.82,375.36 176.82,375.66" fill="#2434a8" />
<polygon points="177.21,376.22 180.51,378.12 180.21,379.12 177.21,379.42" fill="#d42828" />
<polygon points="177.77,379.99 181.07,381.89 180.77,382.89 177.77,383.19" fill="#d42828" />
<polygon points="178.48,383.75 181.78,385.65 181.48,386.65 178.48,386.95" fill="#2434a8" />
<polygon points="179.35,387.52 182.65,389.42 182.35,390.42 179.35,390.72" fill="#d42828" />
<polygon points="180.37,391.29 183.67,393.19 183.37,394.19 180.37,394.49" fill="#d42828" />
<path d="M192.2,357.2 Q187,380.15 193.8,403.1" stroke="#b47ad8" fill="none" stroke-width="1.2" />
<polygon points="191.89,357.92 195.19,359.82 194.89,360.82 191.89,361.12" fill="#2434a8" />
<polygon points="191.18,361.94 194.48,363.84 194.18,364.84 191.18,365.14" fill="#a860d0" />
<polygon points="190.65,365.97 193.95,367.87 193.65,368.87 190.65,369.17" fill="#e0b040" />
<polygon points="190.31,369.99 193.61,371.89 193.31,372.89 190.31,373.19" fill="#a860d0" />
<polygon points="190.16,374.02 193.46,375.92 193.16,376.92 190.16,377.22" fill="#2434a8" />
<polygon points="190.19,378.05 193.49,379.95 193.19,380.95 190.19,381.25" fill="#2434a8" />
<polygon points="190.4,382.07 193.7,383.97 193.4,384.97 190.4,385.27" fill="#d42828" />
<polygon points="190.8,386.1 194.1,388 193.8,389 190.8,389.3" fill="#2434a8" />
<polygon points="191.38,390.13 194.68,392.03 194.38,393.03 191.38,393.33" fill="#d42828" />
<polygon points="192.15,394.15 195.45,396.05 195.15,397.05 192.15,397.35" fill="#d42828" />
<polygon points="193.1,398.18 196.4,400.08 196.1,401.08 193.1,401.38" fill="#2434a8" />
<path d="M203.3,337.4 Q197.7,361.15 204.1,384.9" stroke="#b47ad8" fill="none" stroke-width="1.2" />
<polygon points="202.94,338.2 206.24,340.1 205.94,341.1 202.94,341.4" fill="#2434a8" />
<polygon points="202.16,342.37 205.46,344.27 205.16,345.27 202.16,345.57" fill="#a860d0" />
<polygon points="201.57,346.53 204.87,348.43 204.57,349.43 201.57,349.73" fill="#a860d0" />
<polygon points="201.16,350.7 204.46,352.6 204.16,353.6 201.16,353.9" fill="#e0b040" />
<polygon points="200.93,354.87 204.23,356.77 203.93,357.77 200.93,358.07" fill="#2434a8" />
<polygon points="200.89,359.03 204.19,360.93 203.89,361.93 200.89,362.23" fill="#2434a8" />
<polygon points="201.04,363.2 204.34,365.1 204.04,366.1 201.04,366.4" fill="#d42828" />
<polygon points="201.37,367.37 204.67,369.27 204.37,370.27 201.37,370.57" fill="#d42828" />
<polygon points="201.88,371.53 205.18,373.43 204.88,374.43 201.88,374.73" fill="#2434a8" />
<polygon points="202.58,375.7 205.88,377.6 205.58,378.6 202.58,378.9" fill="#d42828" />
<polygon points="203.46,379.87 206.76,381.77 206.46,382.77 203.46,383.07" fill="#2434a8" />
<path d="M215.2,355.6 Q210,379 216.8,402.4" stroke="#b47ad8" fill="none" stroke-width="1.2" />
<polygon points="214.89,356.36 218.19,358.26 217.89,359.26 214.89,359.56" fill="#2434a8" />
<polygon points="214.18,360.47 217.48,362.37 217.18,363.37 214.18,363.67" fill="#a860d0" />
<polygon points="213.65,364.57 216.95,366.47 216.65,367.47 213.65,367.77" fill="#a860d0" />
<polygon points="213.31,368.68 216.61,370.58 216.31,371.58 213.31,371.88" fill="#e0b040" />
<polygon points="213.16,372.78 216.46,374.68 216.16,375.68 213.16,375.98" fill="#a860d0" />
<polygon points="213.19,376.89 216.49,378.79 216.19,379.79 213.19,380.09" fill="#2434a8" />
<polygon points="213.4,380.99 216.7,382.89 216.4,383.89 213.4,384.19" fill="#2434a8" />
<polygon points="213.8,385.1 217.1,387 216.8,388 213.8,388.3" fill="#d42828" />
<polygon points="214.38,389.21 217.68,391.11 217.38,392.11 214.38,392.41" fill="#2434a8" />
<polygon points="215.15,393.31 218.45,395.21 218.15,396.21 215.15,396.51" fill="#d42828" />
<polygon points="216.1,397.42 219.4,399.32 219.1,400.32 216.1,400.62" fill="#d42828" />
<path d="M226.3,346.9 Q221.05,370.65 227.8,394.4" stroke="#b47ad8" fill="none" stroke-width="1.2" />
<polygon points="225.98,347.7 229.28,349.6 228.98,350.6 225.98,350.9" fill="#2434a8" />
<polygon points="225.26,351.87 228.56,353.77 228.26,354.77 225.26,355.07" fill="#a860d0" />
<polygon points="224.73,356.03 228.03,357.93 227.73,358.93 224.73,359.23" fill="#e0b040" />
<polygon points="224.38,360.2 227.68,362.1 227.38,363.1 224.38,363.4" fill="#a860d0" />
<polygon points="224.22,364.37 227.52,366.27 227.22,367.27 224.22,367.57" fill="#a860d0" />
<polygon points="224.24,368.53 227.54,370.43 227.24,371.43 224.24,371.73" fill="#2434a8" />
<polygon points="224.44,372.7 227.74,374.6 227.44,375.6 224.44,375.9" fill="#2434a8" />
<polygon points="224.83,376.87 228.13,378.77 227.83,379.77 224.83,380.07" fill="#d42828" />
<polygon points="225.41,381.03 228.71,382.93 228.41,383.93 225.41,384.23" fill="#d42828" />
<polygon points="226.17,385.2 229.47,387.1 229.17,388.1 226.17,388.4" fill="#2434a8" />
<polygon points="227.11,389.37 230.41,391.27 230.11,392.27 227.11,392.57" fill="#d42828" />
<line x1="315.09" y1="354.73" x2="316.63" y2="354.73" stroke="#2a40b8" stroke-width="1.15" />
<line x1="314.64" y1="356.21" x2="317.16" y2="356.21" stroke="#f4f4f4" stroke-width="1.15" />
<line x1="314.2" y1="357.69" x2="317.68" y2="357.69" stroke="#e0a040" stroke-width="1.15" />
<line x1="313.88" y1="359.18" x2="318.08" y2="359.18" stroke="#2a40b8" stroke-width="1.15" />
<line x1="313.77" y1="360.66" x2="318.27" y2="360.66" stroke="#d83030" stroke-width="1.15" />
<line x1="313.95" y1="362.14" x2="318.17" y2="362.14" stroke="#f4f4f4" stroke-width="1.15" />
<line x1="314.44" y1="363.62" x2="317.76" y2="363.62" stroke="#d83030" stroke-width="1.15" />
<line x1="315.34" y1="365.11" x2="316.94" y2="365.11" stroke="#2a40b8" stroke-width="1.15" />
<line x1="315.17" y1="368.07" x2="317.27" y2="368.07" stroke="#e0a040" stroke-width="1.15" />
<line x1="314.38" y1="369.56" x2="318.14" y2="369.56" stroke="#2a40b8" stroke-width="1.15" />
<line x1="313.77" y1="371.04" x2="318.83" y2="371.04" stroke="#d83030" stroke-width="1.15" />
<line x1="313.39" y1="372.52" x2="319.29" y2="372.52" stroke="#f4f4f4" stroke-width="1.15" />
<line x1="313.28" y1="374.01" x2="319.48" y2="374.01" stroke="#d83030" stroke-width="1.15" />
<line x1="313.45" y1="375.49" x2="319.39" y2="375.49" stroke="#2a40b8" stroke-width="1.15" />
<line x1="313.9" y1="376.98" x2="319.02" y2="376.98" stroke="#f4f4f4" stroke-width="1.15" />
<line x1="314.58" y1="378.46" x2="318.42" y2="378.46" stroke="#e0a040" stroke-width="1.15" />
<line x1="315.43" y1="379.94" x2="317.65" y2="379.94" stroke="#2a40b8" stroke-width="1.15" />
<line x1="315.88" y1="382.91" x2="317.36" y2="382.91" stroke="#f4f4f4" stroke-width="1.15" />
<line x1="315.05" y1="384.39" x2="318.27" y2="384.39" stroke="#d83030" stroke-width="1.15" />
<line x1="314.37" y1="385.88" x2="319.03" y2="385.88" stroke="#2a40b8" stroke-width="1.15" />
<line x1="314.21" y1="387.36" x2="319.27" y2="387.36" stroke="#f4f4f4" stroke-width="1.15" />
<line x1="314.36" y1="388.84" x2="319.2" y2="388.84" stroke="#e0a040" stroke-width="1.15" />
<line x1="314.75" y1="390.32" x2="318.89" y2="390.32" stroke="#2a40b8" stroke-width="1.15" />
<line x1="315.29" y1="391.81" x2="318.43" y2="391.81" stroke="#d83030" stroke-width="1.15" />
<line x1="315.89" y1="393.29" x2="317.91" y2="393.29" stroke="#f4f4f4" stroke-width="1.15" />
<path d="M315.98,352.5 L316.27,353.61 L316.63,354.73 L317.03,355.84 L317.43,356.95 L317.79,358.06 L318.08,359.18 L318.24,360.29 L318.26,361.4 L318.1,362.51 L317.76,363.62 L317.15,364.74 L316.5,365.85 L315.82,366.96 L315.17,368.07 L314.56,369.19 L314.05,370.3 L313.65,371.41 L313.39,372.52 L313.28,373.64 L313.33,374.75 L313.54,375.86 L313.9,376.98 L314.39,378.09 L314.99,379.2 L315.67,380.31 L316.39,381.43 L317.12,382.54 L317.83,383.65 L318.48,384.76 L319.03,385.88 L319.24,386.99 L319.27,388.1 L319.14,389.21 L318.89,390.32 L318.55,391.44 L318.17,392.55 L317.79,393.66 L317.45,394.77 L317.18,395.89 L317.01,397" stroke="#b060d0" fill="none" stroke-width="1.2" />
<path d="M315.62,352.5 L315.39,353.61 L315.09,354.73 L314.75,355.84 L314.41,356.95 L314.11,358.06 L313.88,359.18 L313.78,360.29 L313.82,361.4 L314.04,362.51 L314.44,363.62 L315.11,364.74 L315.82,365.85 L316.56,366.96 L317.27,368.07 L317.94,369.19 L318.51,370.3 L318.97,371.41 L319.29,372.52 L319.46,373.64 L319.47,374.75 L319.32,375.86 L319.02,376.98 L318.59,378.09 L318.05,379.2 L317.43,380.31 L316.77,381.43 L316.1,382.54 L315.45,383.65 L314.86,384.76 L314.37,385.88 L314.22,386.99 L314.25,388.1 L314.44,389.21 L314.75,390.32 L315.15,391.44 L315.59,392.55 L316.03,393.66 L316.43,394.77 L316.76,395.89 L316.99,397" stroke="#48c4d4" fill="none" stroke-width="1.2" />
<line x1="329.76" y1="361.23" x2="331.29" y2="361.23" stroke="#d83030" stroke-width="1.15" />
<line x1="329.45" y1="362.7" x2="331.68" y2="362.7" stroke="#2a40b8" stroke-width="1.15" />
<line x1="329.27" y1="364.17" x2="331.95" y2="364.17" stroke="#f4f4f4" stroke-width="1.15" />
<line x1="329.28" y1="365.63" x2="332.02" y2="365.63" stroke="#e0a040" stroke-width="1.15" />
<line x1="329.55" y1="367.1" x2="331.84" y2="367.1" stroke="#2a40b8" stroke-width="1.15" />
<line x1="329.8" y1="371.5" x2="331.85" y2="371.5" stroke="#d83030" stroke-width="1.15" />
<line x1="329.02" y1="372.97" x2="332.72" y2="372.97" stroke="#2a40b8" stroke-width="1.15" />
<line x1="328.4" y1="374.43" x2="333.42" y2="374.43" stroke="#f4f4f4" stroke-width="1.15" />
<line x1="328.02" y1="375.9" x2="333.89" y2="375.9" stroke="#e0a040" stroke-width="1.15" />
<line x1="327.9" y1="377.37" x2="334.1" y2="377.37" stroke="#2a40b8" stroke-width="1.15" />
<line x1="328.07" y1="378.83" x2="334.02" y2="378.83" stroke="#d83030" stroke-width="1.15" />
<line x1="328.5" y1="380.3" x2="333.67" y2="380.3" stroke="#f4f4f4" stroke-width="1.15" />
<line x1="329.18" y1="381.77" x2="333.08" y2="381.77" stroke="#d83030" stroke-width="1.15" />
<line x1="330.03" y1="383.23" x2="332.31" y2="383.23" stroke="#2a40b8" stroke-width="1.15" />
<line x1="330.55" y1="386.17" x2="331.97" y2="386.17" stroke="#e0a040" stroke-width="1.15" />
<line x1="329.72" y1="387.63" x2="332.88" y2="387.63" stroke="#2a40b8" stroke-width="1.15" />
<line x1="329.04" y1="389.1" x2="333.65" y2="389.1" stroke="#d83030" stroke-width="1.15" />
<line x1="328.57" y1="390.57" x2="334.21" y2="390.57" stroke="#f4f4f4" stroke-width="1.15" />
<line x1="328.36" y1="392.03" x2="334.51" y2="392.03" stroke="#d83030" stroke-width="1.15" />
<line x1="328.42" y1="393.5" x2="334.53" y2="393.5" stroke="#2a40b8" stroke-width="1.15" />
<line x1="329.07" y1="394.97" x2="333.97" y2="394.97" stroke="#f4f4f4" stroke-width="1.15" />
<line x1="329.84" y1="396.43" x2="333.28" y2="396.43" stroke="#e0a040" stroke-width="1.15" />
<line x1="330.63" y1="397.9" x2="332.58" y2="397.9" stroke="#2a40b8" stroke-width="1.15" />
<path d="M331.08,360.5 L331.39,361.6 L331.68,362.7 L331.9,363.8 L332.01,364.9 L332,366 L331.84,367.1 L331.53,368.2 L331.07,369.3 L330.48,370.4 L329.8,371.5 L329.2,372.6 L328.68,373.7 L328.28,374.8 L328.02,375.9 L327.9,377 L327.95,378.1 L328.15,379.2 L328.5,380.3 L328.99,381.4 L329.59,382.5 L330.27,383.6 L330.99,384.7 L331.73,385.8 L332.44,386.9 L333.09,388 L333.65,389.1 L334.09,390.2 L334.39,391.3 L334.54,392.4 L334.53,393.5 L334.13,394.6 L333.64,395.7 L333.11,396.8 L332.58,397.9 L332.1,399 L331.71,400.1 L331.43,401.2 L331.27,402.3 L331.24,403.4 L331.32,404.5" stroke="#b060d0" fill="none" stroke-width="1.2" />
<path d="M329.92,360.5 L329.67,361.6 L329.45,362.7 L329.3,363.8 L329.25,364.9 L329.32,366 L329.55,367.1 L329.93,368.2 L330.45,369.3 L331.1,370.4 L331.85,371.5 L332.51,372.6 L333.1,373.7 L333.56,374.8 L333.89,375.9 L334.07,377 L334.09,378.1 L333.95,379.2 L333.67,380.3 L333.24,381.4 L332.71,382.5 L332.1,383.6 L331.44,384.7 L330.77,385.8 L330.12,386.9 L329.53,388 L329.04,389.1 L328.66,390.2 L328.43,391.3 L328.35,392.4 L328.42,393.5 L328.89,394.6 L329.44,395.7 L330.04,396.8 L330.63,397.9 L331.17,399 L331.63,400.1 L331.98,401.2 L332.2,402.3 L332.3,403.4 L332.28,404.5" stroke="#48c4d4" fill="none" stroke-width="1.2" />
<line x1="340.85" y1="342.23" x2="342.8" y2="342.23" stroke="#2a40b8" stroke-width="1.15" />
<line x1="340.43" y1="343.71" x2="343.26" y2="343.71" stroke="#f4f4f4" stroke-width="1.15" />
<line x1="340.09" y1="345.19" x2="343.63" y2="345.19" stroke="#e0a040" stroke-width="1.15" />
<line x1="339.93" y1="346.68" x2="343.82" y2="346.68" stroke="#2a40b8" stroke-width="1.15" />
<line x1="340.03" y1="348.16" x2="343.76" y2="348.16" stroke="#d83030" stroke-width="1.15" />
<line x1="340.42" y1="349.64" x2="343.4" y2="349.64" stroke="#f4f4f4" stroke-width="1.15" />
<line x1="341.12" y1="351.12" x2="342.73" y2="351.12" stroke="#d83030" stroke-width="1.15" />
<line x1="340.91" y1="354.09" x2="343" y2="354.09" stroke="#f4f4f4" stroke-width="1.15" />
<line x1="340.11" y1="355.57" x2="343.84" y2="355.57" stroke="#e0a040" stroke-width="1.15" />
<line x1="339.47" y1="357.06" x2="344.51" y2="357.06" stroke="#2a40b8" stroke-width="1.15" />
<line x1="339.06" y1="358.54" x2="344.95" y2="358.54" stroke="#d83030" stroke-width="1.15" />
<line x1="338.93" y1="360.02" x2="345.12" y2="360.02" stroke="#f4f4f4" stroke-width="1.15" />
<line x1="339.07" y1="361.51" x2="345.01" y2="361.51" stroke="#d83030" stroke-width="1.15" />
<line x1="339.49" y1="362.99" x2="344.63" y2="362.99" stroke="#2a40b8" stroke-width="1.15" />
<line x1="340.14" y1="364.48" x2="344.01" y2="364.48" stroke="#f4f4f4" stroke-width="1.15" />
<line x1="340.97" y1="365.96" x2="343.21" y2="365.96" stroke="#e0a040" stroke-width="1.15" />
<line x1="341.39" y1="368.93" x2="342.86" y2="368.93" stroke="#d83030" stroke-width="1.15" />
<line x1="340.54" y1="370.41" x2="343.74" y2="370.41" stroke="#f4f4f4" stroke-width="1.15" />
<line x1="339.84" y1="371.89" x2="344.48" y2="371.89" stroke="#d83030" stroke-width="1.15" />
<line x1="339.35" y1="373.38" x2="345" y2="373.38" stroke="#2a40b8" stroke-width="1.15" />
<line x1="339.44" y1="374.86" x2="344.94" y2="374.86" stroke="#f4f4f4" stroke-width="1.15" />
<line x1="339.81" y1="376.34" x2="344.6" y2="376.34" stroke="#e0a040" stroke-width="1.15" />
<line x1="340.37" y1="377.82" x2="344.08" y2="377.82" stroke="#2a40b8" stroke-width="1.15" />
<line x1="341" y1="379.31" x2="343.49" y2="379.31" stroke="#d83030" stroke-width="1.15" />
<path d="M342.15,340 L342.45,341.11 L342.8,342.23 L343.15,343.34 L343.46,344.45 L343.7,345.56 L343.82,346.68 L343.8,347.79 L343.62,348.9 L343.26,350.01 L342.73,351.12 L342.05,352.24 L341.36,353.35 L340.7,354.46 L340.11,355.57 L339.61,356.69 L339.23,357.8 L339,358.91 L338.93,360.02 L339.01,361.14 L339.25,362.25 L339.63,363.36 L340.14,364.48 L340.75,365.59 L341.43,366.7 L342.15,367.81 L342.86,368.93 L343.53,370.04 L344.13,371.15 L344.63,372.26 L345,373.38 L344.99,374.49 L344.8,375.6 L344.49,376.71 L344.08,377.82 L343.64,378.94 L343.19,380.05 L342.79,381.16 L342.46,382.27 L342.24,383.39 L342.13,384.5" stroke="#b060d0" fill="none" stroke-width="1.2" />
<path d="M341.45,340 L341.17,341.11 L340.85,342.23 L340.53,343.34 L340.24,344.45 L340.03,345.56 L339.93,346.68 L339.97,347.79 L340.18,348.9 L340.57,350.01 L341.12,351.12 L341.83,352.24 L342.54,353.35 L343.22,354.46 L343.84,355.57 L344.37,356.69 L344.77,357.8 L345.02,358.91 L345.12,360.02 L345.07,361.14 L344.85,362.25 L344.49,363.36 L344.01,364.48 L343.42,365.59 L342.77,366.7 L342.08,367.81 L341.39,368.93 L340.74,370.04 L340.17,371.15 L339.69,372.26 L339.35,373.38 L339.39,374.49 L339.6,375.6 L339.94,376.71 L340.37,377.82 L340.84,378.94 L341.31,380.05 L341.73,381.16 L342.09,382.27 L342.34,383.39 L342.47,384.5" stroke="#48c4d4" fill="none" stroke-width="1.2" />
<line x1="352.55" y1="359.72" x2="354.11" y2="359.72" stroke="#d83030" stroke-width="1.15" />
<line x1="352.35" y1="361.16" x2="354.42" y2="361.16" stroke="#2a40b8" stroke-width="1.15" />
<line x1="352.32" y1="362.6" x2="354.56" y2="362.6" stroke="#f4f4f4" stroke-width="1.15" />
<line x1="352.53" y1="364.04" x2="354.47" y2="364.04" stroke="#e0a040" stroke-width="1.15" />
<line x1="352.76" y1="368.36" x2="354.57" y2="368.36" stroke="#f4f4f4" stroke-width="1.15" />
<line x1="351.88" y1="369.8" x2="355.57" y2="369.8" stroke="#d83030" stroke-width="1.15" />
<line x1="351.28" y1="371.24" x2="356.28" y2="371.24" stroke="#2a40b8" stroke-width="1.15" />
<line x1="350.9" y1="372.68" x2="356.77" y2="372.68" stroke="#f4f4f4" stroke-width="1.15" />
<line x1="350.8" y1="374.12" x2="356.99" y2="374.12" stroke="#e0a040" stroke-width="1.15" />
<line x1="350.97" y1="375.56" x2="356.93" y2="375.56" stroke="#2a40b8" stroke-width="1.15" />
<line x1="351.42" y1="377" x2="356.6" y2="377" stroke="#d83030" stroke-width="1.15" />
<line x1="352.11" y1="378.44" x2="356.02" y2="378.44" stroke="#f4f4f4" stroke-width="1.15" />
<line x1="352.97" y1="379.88" x2="355.27" y2="379.88" stroke="#d83030" stroke-width="1.15" />
<line x1="352.72" y1="384.2" x2="355.86" y2="384.2" stroke="#e0a040" stroke-width="1.15" />
<line x1="352.05" y1="385.64" x2="356.65" y2="385.64" stroke="#2a40b8" stroke-width="1.15" />
<line x1="351.59" y1="387.08" x2="357.22" y2="387.08" stroke="#d83030" stroke-width="1.15" />
<line x1="351.39" y1="388.52" x2="357.54" y2="388.52" stroke="#f4f4f4" stroke-width="1.15" />
<line x1="351.47" y1="389.96" x2="357.57" y2="389.96" stroke="#d83030" stroke-width="1.15" />
<line x1="351.82" y1="391.4" x2="357.33" y2="391.4" stroke="#2a40b8" stroke-width="1.15" />
<line x1="352.67" y1="392.84" x2="356.6" y2="392.84" stroke="#f4f4f4" stroke-width="1.15" />
<line x1="353.55" y1="394.28" x2="355.82" y2="394.28" stroke="#e0a040" stroke-width="1.15" />
<line x1="354.17" y1="400.04" x2="355.66" y2="400.04" stroke="#d83030" stroke-width="1.15" />
<path d="M353.92,359 L354.2,360.08 L354.42,361.16 L354.54,362.24 L354.55,363.32 L354.41,364.4 L354.13,365.48 L353.71,366.56 L353.17,367.64 L352.55,368.72 L351.88,369.8 L351.41,370.88 L351.06,371.96 L350.85,373.04 L350.8,374.12 L350.9,375.2 L351.16,376.28 L351.57,377.36 L352.11,378.44 L352.74,379.52 L353.45,380.6 L354.19,381.68 L354.93,382.76 L355.64,383.84 L356.28,384.92 L356.81,386 L357.22,387.08 L357.48,388.16 L357.59,389.24 L357.54,390.32 L357.33,391.4 L356.79,392.48 L356.21,393.56 L355.64,394.64 L355.12,395.72 L354.7,396.8 L354.39,397.88 L354.22,398.96 L354.17,400.04 L354.25,401.12 L354.43,402.2" stroke="#b060d0" fill="none" stroke-width="1.2" />
<path d="M352.68,359 L352.49,360.08 L352.35,361.16 L352.31,362.24 L352.39,363.32 L352.62,364.4 L352.98,365.48 L353.49,366.56 L354.11,367.64 L354.81,368.72 L355.57,369.8 L356.12,370.88 L356.56,371.96 L356.86,373.04 L356.99,374.12 L356.97,375.2 L356.8,376.28 L356.47,377.36 L356.02,378.44 L355.47,379.52 L354.85,380.6 L354.19,381.68 L353.54,382.76 L352.91,383.84 L352.36,384.92 L351.91,386 L351.59,387.08 L351.41,388.16 L351.39,389.24 L351.53,390.32 L351.82,391.4 L352.45,392.48 L353.11,393.56 L353.77,394.64 L354.37,395.72 L354.87,396.8 L355.27,397.88 L355.53,398.96 L355.66,400.04 L355.67,401.12 L355.57,402.2" stroke="#48c4d4" fill="none" stroke-width="1.2" />
<line x1="363.58" y1="352.45" x2="365.76" y2="352.45" stroke="#2a40b8" stroke-width="1.15" />
<line x1="363.28" y1="353.89" x2="366.16" y2="353.89" stroke="#f4f4f4" stroke-width="1.15" />
<line x1="363.12" y1="355.33" x2="366.41" y2="355.33" stroke="#e0a040" stroke-width="1.15" />
<line x1="363.19" y1="356.76" x2="366.43" y2="356.76" stroke="#2a40b8" stroke-width="1.15" />
<line x1="363.54" y1="358.2" x2="366.18" y2="358.2" stroke="#d83030" stroke-width="1.15" />
<line x1="364.17" y1="359.64" x2="365.64" y2="359.64" stroke="#f4f4f4" stroke-width="1.15" />
<line x1="363.96" y1="362.51" x2="366.03" y2="362.51" stroke="#2a40b8" stroke-width="1.15" />
<line x1="363.18" y1="363.95" x2="366.9" y2="363.95" stroke="#f4f4f4" stroke-width="1.15" />
<line x1="362.57" y1="365.38" x2="367.61" y2="365.38" stroke="#e0a040" stroke-width="1.15" />
<line x1="362.19" y1="366.82" x2="368.08" y2="366.82" stroke="#2a40b8" stroke-width="1.15" />
<line x1="362.08" y1="368.26" x2="368.28" y2="368.26" stroke="#d83030" stroke-width="1.15" />
<line x1="362.26" y1="369.69" x2="368.2" y2="369.69" stroke="#f4f4f4" stroke-width="1.15" />
<line x1="362.7" y1="371.13" x2="367.85" y2="371.13" stroke="#d83030" stroke-width="1.15" />
<line x1="363.38" y1="372.57" x2="367.26" y2="372.57" stroke="#2a40b8" stroke-width="1.15" />
<line x1="364.24" y1="374" x2="366.5" y2="374" stroke="#f4f4f4" stroke-width="1.15" />
<line x1="364.74" y1="376.88" x2="366.19" y2="376.88" stroke="#2a40b8" stroke-width="1.15" />
<line x1="363.92" y1="378.31" x2="367.1" y2="378.31" stroke="#d83030" stroke-width="1.15" />
<line x1="363.24" y1="379.75" x2="367.87" y2="379.75" stroke="#f4f4f4" stroke-width="1.15" />
<line x1="362.78" y1="381.19" x2="368.43" y2="381.19" stroke="#d83030" stroke-width="1.15" />
<line x1="362.57" y1="382.62" x2="368.73" y2="382.62" stroke="#2a40b8" stroke-width="1.15" />
<line x1="362.97" y1="384.06" x2="368.42" y2="384.06" stroke="#f4f4f4" stroke-width="1.15" />
<line x1="363.59" y1="385.5" x2="367.9" y2="385.5" stroke="#e0a040" stroke-width="1.15" />
<line x1="364.31" y1="386.94" x2="367.27" y2="386.94" stroke="#2a40b8" stroke-width="1.15" />
<line x1="365.02" y1="388.37" x2="366.65" y2="388.37" stroke="#d83030" stroke-width="1.15" />
<path d="M365.09,350.3 L365.42,351.38 L365.76,352.45 L366.07,353.53 L366.31,354.61 L366.43,355.69 L366.43,356.76 L366.27,357.84 L365.94,358.92 L365.46,360 L364.84,361.07 L364.18,362.15 L363.56,363.23 L363.01,364.31 L362.57,365.38 L362.26,366.46 L362.1,367.54 L362.1,368.62 L362.26,369.69 L362.57,370.77 L363.02,371.85 L363.58,372.93 L364.24,374 L364.96,375.08 L365.7,376.16 L366.42,377.24 L367.1,378.31 L367.7,379.39 L368.18,380.47 L368.53,381.55 L368.73,382.62 L368.52,383.7 L368.18,384.78 L367.75,385.86 L367.27,386.94 L366.8,388.01 L366.38,389.09 L366.03,390.17 L365.78,391.25 L365.66,392.32 L365.66,393.4" stroke="#b060d0" fill="none" stroke-width="1.2" />
<path d="M364.11,350.3 L363.85,351.38 L363.58,352.45 L363.34,353.53 L363.17,354.61 L363.12,355.69 L363.19,356.76 L363.42,357.84 L363.82,358.92 L364.37,360 L365.06,361.07 L365.79,362.15 L366.48,363.23 L367.1,364.31 L367.61,365.38 L367.99,366.46 L368.22,367.54 L368.29,368.62 L368.2,369.69 L367.96,370.77 L367.58,371.85 L367.09,372.93 L366.5,374 L365.85,375.08 L365.18,376.16 L364.53,377.24 L363.92,378.31 L363.39,379.39 L362.98,380.47 L362.7,381.55 L362.57,382.62 L362.85,383.7 L363.26,384.78 L363.76,385.86 L364.31,386.94 L364.85,388.01 L365.34,389.09 L365.76,390.17 L366.08,391.25 L366.27,392.32 L366.34,393.4" stroke="#48c4d4" fill="none" stroke-width="1.2" />
</svg></body></html>
